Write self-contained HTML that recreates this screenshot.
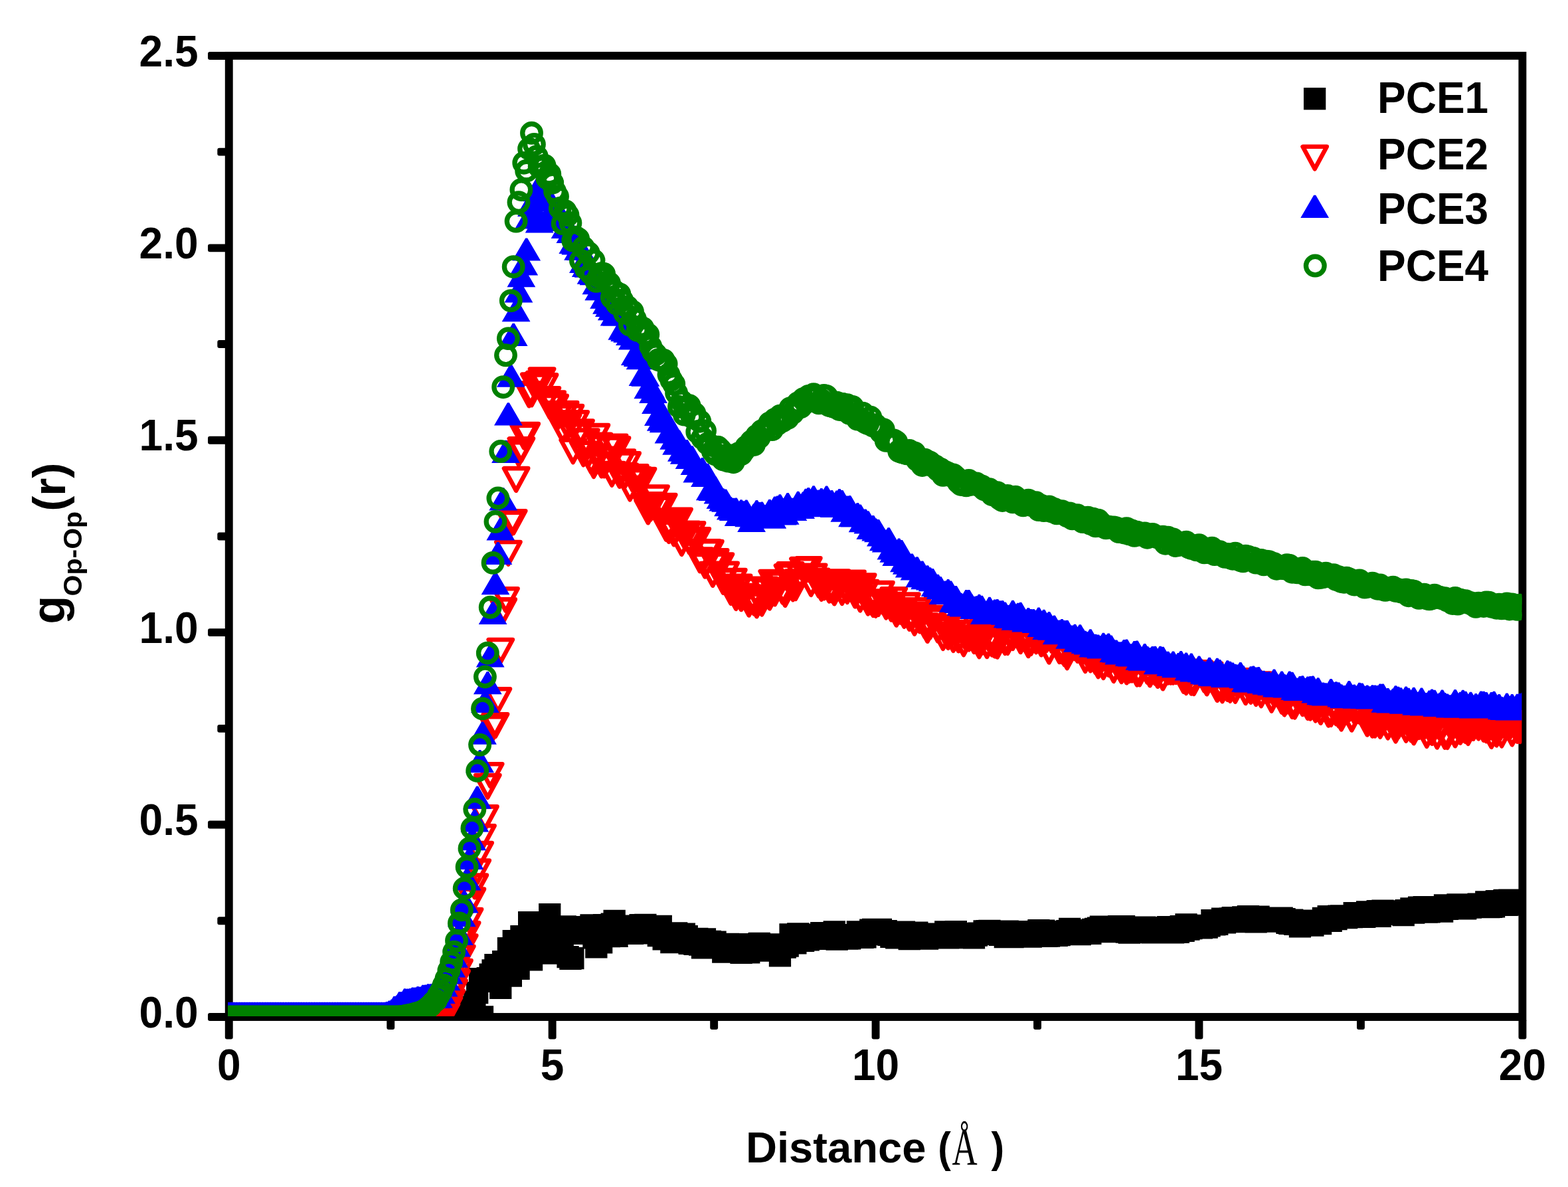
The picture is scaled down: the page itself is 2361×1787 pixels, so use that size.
<!DOCTYPE html>
<html lang="en">
<head>
<meta charset="utf-8">
<title>g Op-Op (r) vs Distance</title>
<style>
html,body{margin:0;padding:0;background:#fff;}
body{width:2361px;height:1787px;overflow:hidden;}
svg{display:block;}
text{font-family:"Liberation Sans",sans-serif;font-weight:bold;font-size:64px;fill:#000;}
</style>
</head>
<body>
<svg width="2361" height="1787" viewBox="0 0 2361 1787">
<rect width="2361" height="1787" fill="#fff"/>
<defs><clipPath id="plot"><rect x="343.1" y="82.8" width="1948.3" height="1447.1"/></clipPath></defs>
<rect x="344.75" y="83.90" width="1947.65" height="1447.10" fill="none" stroke="#000" stroke-width="11.9"/>
<g fill="#000"><rect x="313.0" y="1525.0" width="28.8" height="11.9" rx="3"/><rect x="327.3" y="1380.3" width="14.5" height="11.9" rx="3"/><rect x="313.0" y="1235.6" width="28.8" height="11.9" rx="3"/><rect x="327.3" y="1090.9" width="14.5" height="11.9" rx="3"/><rect x="313.0" y="946.2" width="28.8" height="11.9" rx="3"/><rect x="327.3" y="801.5" width="14.5" height="11.9" rx="3"/><rect x="313.0" y="656.8" width="28.8" height="11.9" rx="3"/><rect x="327.3" y="512.1" width="14.5" height="11.9" rx="3"/><rect x="313.0" y="367.4" width="28.8" height="11.9" rx="3"/><rect x="327.3" y="222.7" width="14.5" height="11.9" rx="3"/><rect x="313.0" y="78.0" width="28.8" height="11.9" rx="3"/><rect x="338.8" y="1534.0" width="11.9" height="30.5" rx="3"/><rect x="582.3" y="1534.0" width="11.9" height="16.0" rx="3"/><rect x="825.7" y="1534.0" width="11.9" height="30.5" rx="3"/><rect x="1069.2" y="1534.0" width="11.9" height="16.0" rx="3"/><rect x="1312.6" y="1534.0" width="11.9" height="30.5" rx="3"/><rect x="1556.1" y="1534.0" width="11.9" height="16.0" rx="3"/><rect x="1799.5" y="1534.0" width="11.9" height="30.5" rx="3"/><rect x="2043.0" y="1534.0" width="11.9" height="16.0" rx="3"/><rect x="2286.5" y="1534.0" width="11.9" height="30.5" rx="3"/></g>
<g clip-path="url(#plot)">
<path fill="#000" d="M328.1 1514.3h33.3v33.3h-33.3zM332 1514.3h33.3v33.3h-33.3zM335.9 1514.3h33.3v33.3h-33.3zM339.8 1514.3h33.3v33.3h-33.3zM343.7 1514.3h33.3v33.3h-33.3zM347.6 1514.3h33.3v33.3h-33.3zM351.5 1514.3h33.3v33.3h-33.3zM355.4 1514.3h33.3v33.3h-33.3zM359.3 1514.3h33.3v33.3h-33.3zM363.2 1514.3h33.3v33.3h-33.3zM367.1 1514.3h33.3v33.3h-33.3zM370.9 1514.3h33.3v33.3h-33.3zM374.8 1514.3h33.3v33.3h-33.3zM378.7 1514.3h33.3v33.3h-33.3zM382.6 1514.3h33.3v33.3h-33.3zM386.5 1514.3h33.3v33.3h-33.3zM390.4 1514.3h33.3v33.3h-33.3zM394.3 1514.3h33.3v33.3h-33.3zM398.2 1514.3h33.3v33.3h-33.3zM402.1 1514.3h33.3v33.3h-33.3zM406 1514.3h33.3v33.3h-33.3zM409.9 1514.3h33.3v33.3h-33.3zM413.8 1514.3h33.3v33.3h-33.3zM417.7 1514.3h33.3v33.3h-33.3zM421.6 1514.3h33.3v33.3h-33.3zM425.5 1514.3h33.3v33.3h-33.3zM429.4 1514.3h33.3v33.3h-33.3zM433.3 1514.3h33.3v33.3h-33.3zM437.2 1514.3h33.3v33.3h-33.3zM441.1 1514.3h33.3v33.3h-33.3zM445 1514.3h33.3v33.3h-33.3zM448.9 1514.3h33.3v33.3h-33.3zM452.7 1514.3h33.3v33.3h-33.3zM456.6 1514.3h33.3v33.3h-33.3zM460.5 1514.3h33.3v33.3h-33.3zM464.4 1514.3h33.3v33.3h-33.3zM468.3 1514.3h33.3v33.3h-33.3zM472.2 1514.3h33.3v33.3h-33.3zM476.1 1514.3h33.3v33.3h-33.3zM480 1514.3h33.3v33.3h-33.3zM483.9 1514.3h33.3v33.3h-33.3zM487.8 1514.3h33.3v33.3h-33.3zM491.7 1514.3h33.3v33.3h-33.3zM495.6 1514.3h33.3v33.3h-33.3zM499.5 1514.3h33.3v33.3h-33.3zM503.4 1514.3h33.3v33.3h-33.3zM507.3 1514.3h33.3v33.3h-33.3zM511.2 1514.3h33.3v33.3h-33.3zM515.1 1514.3h33.3v33.3h-33.3zM519 1514.3h33.3v33.3h-33.3zM522.9 1514.3h33.3v33.3h-33.3zM526.8 1514.3h33.3v33.3h-33.3zM530.7 1514.3h33.3v33.3h-33.3zM534.6 1514.3h33.3v33.3h-33.3zM538.4 1514.3h33.3v33.3h-33.3zM542.3 1514.3h33.3v33.3h-33.3zM546.2 1514.3h33.3v33.3h-33.3zM550.1 1514.3h33.3v33.3h-33.3zM554 1514.3h33.3v33.3h-33.3zM557.9 1514.3h33.3v33.3h-33.3zM561.8 1514.3h33.3v33.3h-33.3zM565.7 1514.3h33.3v33.3h-33.3zM569.6 1514.3h33.3v33.3h-33.3zM573.5 1514.3h33.3v33.3h-33.3zM577.4 1514.3h33.3v33.3h-33.3zM581.3 1514.3h33.3v33.3h-33.3zM585.2 1514.3h33.3v33.3h-33.3zM589.1 1514.3h33.3v33.3h-33.3zM593 1514.3h33.3v33.3h-33.3zM596.9 1514.3h33.3v33.3h-33.3zM600.8 1514.3h33.3v33.3h-33.3zM604.7 1514.3h33.3v33.3h-33.3zM608.6 1514.3h33.3v33.3h-33.3zM612.5 1514.3h33.3v33.3h-33.3zM616.4 1514.3h33.3v33.3h-33.3zM620.2 1514.3h33.3v33.3h-33.3zM624.1 1514.3h33.3v33.3h-33.3zM628 1514.3h33.3v33.3h-33.3zM631.9 1514.3h33.3v33.3h-33.3zM635.8 1514.3h33.3v33.3h-33.3zM639.7 1514.3h33.3v33.3h-33.3zM643.6 1514.3h33.3v33.3h-33.3zM647.5 1514.3h33.3v33.3h-33.3zM651.4 1514.3h33.3v33.3h-33.3zM655.3 1514.3h33.3v33.3h-33.3zM659.2 1514.3h33.3v33.3h-33.3zM663.1 1514.3h33.3v33.3h-33.3zM667 1514.3h33.3v33.3h-33.3zM670.9 1514.3h33.3v33.3h-33.3zM674.8 1514.3h33.3v33.3h-33.3zM678.7 1514.3h33.3v33.3h-33.3zM682.6 1513.4h33.3v33.3h-33.3zM686.5 1510.8h33.3v33.3h-33.3zM690.4 1506.6h33.3v33.3h-33.3zM694.3 1499.4h33.3v33.3h-33.3zM698.2 1491.6h33.3v33.3h-33.3zM702 1478h33.3v33.3h-33.3zM705.9 1456.9h33.3v33.3h-33.3zM709.8 1514.3h33.3v33.3h-33.3zM713.7 1460.8h33.3v33.3h-33.3zM717.6 1456.1h33.3v33.3h-33.3zM721.5 1450.4h33.3v33.3h-33.3zM725.4 1444.2h33.3v33.3h-33.3zM729.3 1436.1h33.3v33.3h-33.3zM733.2 1437.6h33.3v33.3h-33.3zM737.1 1470.8h33.3v33.3h-33.3zM741 1431.1h33.3v33.3h-33.3zM744.9 1450.7h33.3v33.3h-33.3zM748.8 1411.1h33.3v33.3h-33.3zM752.7 1452.5h33.3v33.3h-33.3zM756.6 1399.9h33.3v33.3h-33.3zM760.5 1432.7h33.3v33.3h-33.3zM764.4 1441.8h33.3v33.3h-33.3zM768.3 1393h33.3v33.3h-33.3zM772.2 1399h33.3v33.3h-33.3zM776.1 1422.2h33.3v33.3h-33.3zM780 1372h33.3v33.3h-33.3zM783.9 1428.1h33.3v33.3h-33.3zM787.7 1387.4h33.3v33.3h-33.3zM791.6 1409.7h33.3v33.3h-33.3zM795.5 1417.2h33.3v33.3h-33.3zM799.4 1413.1h33.3v33.3h-33.3zM803.3 1386.7h33.3v33.3h-33.3zM807.2 1381.3h33.3v33.3h-33.3zM811.1 1360.1h33.3v33.3h-33.3zM815 1418.4h33.3v33.3h-33.3zM818.9 1383.8h33.3v33.3h-33.3zM822.8 1412.9h33.3v33.3h-33.3zM826.7 1406.7h33.3v33.3h-33.3zM830.6 1405.3h33.3v33.3h-33.3zM834.5 1378.3h33.3v33.3h-33.3zM838.4 1424h33.3v33.3h-33.3zM842.3 1426.6h33.3v33.3h-33.3zM846.2 1426h33.3v33.3h-33.3zM850.1 1379h33.3v33.3h-33.3zM854 1380.2h33.3v33.3h-33.3zM857.9 1388.7h33.3v33.3h-33.3zM861.8 1386h33.3v33.3h-33.3zM865.7 1382.2h33.3v33.3h-33.3zM869.5 1386.3h33.3v33.3h-33.3zM873.4 1376.2h33.3v33.3h-33.3zM877.3 1395.3h33.3v33.3h-33.3zM881.2 1409.2h33.3v33.3h-33.3zM885.1 1377.2h33.3v33.3h-33.3zM889 1402.3h33.3v33.3h-33.3zM892.9 1376h33.3v33.3h-33.3zM896.8 1376.6h33.3v33.3h-33.3zM900.7 1393h33.3v33.3h-33.3zM904.6 1374.5h33.3v33.3h-33.3zM908.5 1369.8h33.3v33.3h-33.3zM912.4 1392.7h33.3v33.3h-33.3zM916.3 1385.5h33.3v33.3h-33.3zM920.2 1381.4h33.3v33.3h-33.3zM924.1 1387.8h33.3v33.3h-33.3zM928 1377.6h33.3v33.3h-33.3zM931.9 1377.9h33.3v33.3h-33.3zM935.8 1388.8h33.3v33.3h-33.3zM939.7 1377.9h33.3v33.3h-33.3zM943.6 1386.2h33.3v33.3h-33.3zM947.5 1376h33.3v33.3h-33.3zM951.3 1388.1h33.3v33.3h-33.3zM955.2 1375.7h33.3v33.3h-33.3zM959.1 1385.7h33.3v33.3h-33.3zM963 1381.9h33.3v33.3h-33.3zM966.9 1379.9h33.3v33.3h-33.3zM970.8 1384.5h33.3v33.3h-33.3zM974.7 1392h33.3v33.3h-33.3zM978.6 1377.8h33.3v33.3h-33.3zM982.5 1397.3h33.3v33.3h-33.3zM986.4 1394.4h33.3v33.3h-33.3zM990.3 1389.9h33.3v33.3h-33.3zM994.2 1401.9h33.3v33.3h-33.3zM998.1 1400.9h33.3v33.3h-33.3zM1002 1388.2h33.3v33.3h-33.3zM1005.9 1389.5h33.3v33.3h-33.3zM1009.8 1393.2h33.3v33.3h-33.3zM1013.7 1389.6h33.3v33.3h-33.3zM1017.6 1392.9h33.3v33.3h-33.3zM1021.5 1403.7h33.3v33.3h-33.3zM1025.4 1396.8h33.3v33.3h-33.3zM1029.3 1404.7h33.3v33.3h-33.3zM1033.1 1396.7h33.3v33.3h-33.3zM1037 1405.5h33.3v33.3h-33.3zM1040.9 1410.1h33.3v33.3h-33.3zM1044.8 1397.3h33.3v33.3h-33.3zM1048.7 1401h33.3v33.3h-33.3zM1052.6 1400.8h33.3v33.3h-33.3zM1056.5 1404.8h33.3v33.3h-33.3zM1060.4 1401.6h33.3v33.3h-33.3zM1064.3 1409h33.3v33.3h-33.3zM1068.2 1406.7h33.3v33.3h-33.3zM1072.1 1416.4h33.3v33.3h-33.3zM1076 1408.3h33.3v33.3h-33.3zM1079.9 1404.7h33.3v33.3h-33.3zM1083.8 1406.8h33.3v33.3h-33.3zM1087.7 1405.8h33.3v33.3h-33.3zM1091.6 1411.4h33.3v33.3h-33.3zM1095.5 1405.1h33.3v33.3h-33.3zM1099.4 1417.6h33.3v33.3h-33.3zM1103.3 1405.1h33.3v33.3h-33.3zM1107.2 1413.5h33.3v33.3h-33.3zM1111.1 1417.1h33.3v33.3h-33.3zM1115 1408h33.3v33.3h-33.3zM1118.8 1411.1h33.3v33.3h-33.3zM1122.7 1411.3h33.3v33.3h-33.3zM1126.6 1403.8h33.3v33.3h-33.3zM1130.5 1414.5h33.3v33.3h-33.3zM1134.4 1406.3h33.3v33.3h-33.3zM1138.3 1409.9h33.3v33.3h-33.3zM1142.2 1406.9h33.3v33.3h-33.3zM1146.1 1407h33.3v33.3h-33.3zM1150 1411.8h33.3v33.3h-33.3zM1153.9 1405.2h33.3v33.3h-33.3zM1157.8 1422.3h33.3v33.3h-33.3zM1161.7 1408.8h33.3v33.3h-33.3zM1165.6 1409.5h33.3v33.3h-33.3zM1169.5 1407.4h33.3v33.3h-33.3zM1173.4 1390.2h33.3v33.3h-33.3zM1177.3 1392h33.3v33.3h-33.3zM1181.2 1403.2h33.3v33.3h-33.3zM1185.1 1389.3h33.3v33.3h-33.3zM1189 1394.2h33.3v33.3h-33.3zM1192.9 1399.8h33.3v33.3h-33.3zM1196.8 1395.8h33.3v33.3h-33.3zM1200.6 1398.1h33.3v33.3h-33.3zM1204.5 1390.5h33.3v33.3h-33.3zM1208.4 1392.6h33.3v33.3h-33.3zM1212.3 1396.5h33.3v33.3h-33.3zM1216.2 1396.7h33.3v33.3h-33.3zM1220.1 1388h33.3v33.3h-33.3zM1224 1389h33.3v33.3h-33.3zM1227.9 1393.9h33.3v33.3h-33.3zM1231.8 1394.2h33.3v33.3h-33.3zM1235.7 1388.9h33.3v33.3h-33.3zM1239.6 1386.3h33.3v33.3h-33.3zM1243.5 1397.4h33.3v33.3h-33.3zM1247.4 1396.4h33.3v33.3h-33.3zM1251.3 1393.8h33.3v33.3h-33.3zM1255.2 1391.1h33.3v33.3h-33.3zM1259.1 1396.4h33.3v33.3h-33.3zM1263 1396.3h33.3v33.3h-33.3zM1266.9 1394.2h33.3v33.3h-33.3zM1270.8 1391.8h33.3v33.3h-33.3zM1274.7 1386.2h33.3v33.3h-33.3zM1278.6 1387.5h33.3v33.3h-33.3zM1282.4 1394.7h33.3v33.3h-33.3zM1286.3 1394.3h33.3v33.3h-33.3zM1290.2 1389.3h33.3v33.3h-33.3zM1294.1 1383.4h33.3v33.3h-33.3zM1298 1382.8h33.3v33.3h-33.3zM1301.9 1390h33.3v33.3h-33.3zM1305.8 1383h33.3v33.3h-33.3zM1309.7 1382.7h33.3v33.3h-33.3zM1313.6 1389.7h33.3v33.3h-33.3zM1317.5 1385h33.3v33.3h-33.3zM1321.4 1390.8h33.3v33.3h-33.3zM1325.3 1393.6h33.3v33.3h-33.3zM1329.2 1388.4h33.3v33.3h-33.3zM1333.1 1395.2h33.3v33.3h-33.3zM1337 1388.3h33.3v33.3h-33.3zM1340.9 1387.2h33.3v33.3h-33.3zM1344.8 1386.6h33.3v33.3h-33.3zM1348.7 1392.9h33.3v33.3h-33.3zM1352.6 1397h33.3v33.3h-33.3zM1356.5 1387.8h33.3v33.3h-33.3zM1360.4 1388.2h33.3v33.3h-33.3zM1364.2 1387.4h33.3v33.3h-33.3zM1368.1 1391.3h33.3v33.3h-33.3zM1372 1390.3h33.3v33.3h-33.3zM1375.9 1394.5h33.3v33.3h-33.3zM1379.8 1396.5h33.3v33.3h-33.3zM1383.7 1395.2h33.3v33.3h-33.3zM1387.6 1389.4h33.3v33.3h-33.3zM1391.5 1394.6h33.3v33.3h-33.3zM1395.4 1389.4h33.3v33.3h-33.3zM1399.3 1391.8h33.3v33.3h-33.3zM1403.2 1392.6h33.3v33.3h-33.3zM1407.1 1386.2h33.3v33.3h-33.3zM1411 1395.3h33.3v33.3h-33.3zM1414.9 1391.4h33.3v33.3h-33.3zM1418.8 1395h33.3v33.3h-33.3zM1422.7 1385.9h33.3v33.3h-33.3zM1426.6 1390.9h33.3v33.3h-33.3zM1430.5 1392.8h33.3v33.3h-33.3zM1434.4 1394.3h33.3v33.3h-33.3zM1438.3 1388.8h33.3v33.3h-33.3zM1442.2 1391.6h33.3v33.3h-33.3zM1446.1 1394.3h33.3v33.3h-33.3zM1449.9 1395.1h33.3v33.3h-33.3zM1453.8 1391.5h33.3v33.3h-33.3zM1457.7 1388.5h33.3v33.3h-33.3zM1461.6 1389.3h33.3v33.3h-33.3zM1465.5 1385.2h33.3v33.3h-33.3zM1469.4 1385h33.3v33.3h-33.3zM1473.3 1384.7h33.3v33.3h-33.3zM1477.2 1385.9h33.3v33.3h-33.3zM1481.1 1389.8h33.3v33.3h-33.3zM1485 1388.8h33.3v33.3h-33.3zM1488.9 1390.7h33.3v33.3h-33.3zM1492.8 1390.6h33.3v33.3h-33.3zM1496.7 1394h33.3v33.3h-33.3zM1500.6 1385.6h33.3v33.3h-33.3zM1504.5 1392h33.3v33.3h-33.3zM1508.4 1393.9h33.3v33.3h-33.3zM1512.3 1389.4h33.3v33.3h-33.3zM1516.2 1386.1h33.3v33.3h-33.3zM1520.1 1389.7h33.3v33.3h-33.3zM1524 1390.5h33.3v33.3h-33.3zM1527.9 1386.5h33.3v33.3h-33.3zM1531.7 1392.2h33.3v33.3h-33.3zM1535.6 1393.5h33.3v33.3h-33.3zM1539.5 1386.9h33.3v33.3h-33.3zM1543.4 1387.6h33.3v33.3h-33.3zM1547.3 1384.1h33.3v33.3h-33.3zM1551.2 1389.2h33.3v33.3h-33.3zM1555.1 1384.6h33.3v33.3h-33.3zM1559 1392.7h33.3v33.3h-33.3zM1562.9 1392.5h33.3v33.3h-33.3zM1566.8 1386h33.3v33.3h-33.3zM1570.7 1390.4h33.3v33.3h-33.3zM1574.6 1391.6h33.3v33.3h-33.3zM1578.5 1390.9h33.3v33.3h-33.3zM1582.4 1388.3h33.3v33.3h-33.3zM1586.3 1388.4h33.3v33.3h-33.3zM1590.2 1385.1h33.3v33.3h-33.3zM1594.1 1381.7h33.3v33.3h-33.3zM1598 1387.4h33.3v33.3h-33.3zM1601.9 1388.9h33.3v33.3h-33.3zM1605.8 1383.9h33.3v33.3h-33.3zM1609.7 1390h33.3v33.3h-33.3zM1613.5 1386.2h33.3v33.3h-33.3zM1617.4 1386.7h33.3v33.3h-33.3zM1621.3 1385.7h33.3v33.3h-33.3zM1625.2 1388.6h33.3v33.3h-33.3zM1629.1 1382.8h33.3v33.3h-33.3zM1633 1381.8h33.3v33.3h-33.3zM1636.9 1380.4h33.3v33.3h-33.3zM1640.8 1378.4h33.3v33.3h-33.3zM1644.7 1384.9h33.3v33.3h-33.3zM1648.6 1380.8h33.3v33.3h-33.3zM1652.5 1383.6h33.3v33.3h-33.3zM1656.4 1385.9h33.3v33.3h-33.3zM1660.3 1378.4h33.3v33.3h-33.3zM1664.2 1379.6h33.3v33.3h-33.3zM1668.1 1377.9h33.3v33.3h-33.3zM1672 1378.9h33.3v33.3h-33.3zM1675.9 1378.1h33.3v33.3h-33.3zM1679.8 1386.5h33.3v33.3h-33.3zM1683.7 1387.4h33.3v33.3h-33.3zM1687.6 1385.9h33.3v33.3h-33.3zM1691.5 1383.8h33.3v33.3h-33.3zM1695.4 1380.2h33.3v33.3h-33.3zM1699.2 1383.4h33.3v33.3h-33.3zM1703.1 1382.2h33.3v33.3h-33.3zM1707 1379.5h33.3v33.3h-33.3zM1710.9 1387h33.3v33.3h-33.3zM1714.8 1380.3h33.3v33.3h-33.3zM1718.7 1387.1h33.3v33.3h-33.3zM1722.6 1385.4h33.3v33.3h-33.3zM1726.5 1379.9h33.3v33.3h-33.3zM1730.4 1380.2h33.3v33.3h-33.3zM1734.3 1383.8h33.3v33.3h-33.3zM1738.2 1385h33.3v33.3h-33.3zM1742.1 1378.9h33.3v33.3h-33.3zM1746 1385.1h33.3v33.3h-33.3zM1749.9 1387.2h33.3v33.3h-33.3zM1753.8 1385.2h33.3v33.3h-33.3zM1757.7 1386.7h33.3v33.3h-33.3zM1761.6 1377.9h33.3v33.3h-33.3zM1765.5 1384.7h33.3v33.3h-33.3zM1769.4 1375.2h33.3v33.3h-33.3zM1773.3 1382.5h33.3v33.3h-33.3zM1777.2 1380.9h33.3v33.3h-33.3zM1781 1376.7h33.3v33.3h-33.3zM1784.9 1379.5h33.3v33.3h-33.3zM1788.8 1378.3h33.3v33.3h-33.3zM1792.7 1380.2h33.3v33.3h-33.3zM1796.6 1376.9h33.3v33.3h-33.3zM1800.5 1379.5h33.3v33.3h-33.3zM1804.4 1377.1h33.3v33.3h-33.3zM1808.3 1369.1h33.3v33.3h-33.3zM1812.2 1375.2h33.3v33.3h-33.3zM1816.1 1374.6h33.3v33.3h-33.3zM1820 1369h33.3v33.3h-33.3zM1823.9 1366.5h33.3v33.3h-33.3zM1827.8 1372.3h33.3v33.3h-33.3zM1831.7 1370.9h33.3v33.3h-33.3zM1835.6 1366.3h33.3v33.3h-33.3zM1839.5 1365.1h33.3v33.3h-33.3zM1843.4 1366.4h33.3v33.3h-33.3zM1847.3 1371h33.3v33.3h-33.3zM1851.2 1370.8h33.3v33.3h-33.3zM1855.1 1364.3h33.3v33.3h-33.3zM1859 1364.7h33.3v33.3h-33.3zM1862.8 1363.1h33.3v33.3h-33.3zM1866.7 1364.1h33.3v33.3h-33.3zM1870.6 1368.5h33.3v33.3h-33.3zM1874.5 1371.3h33.3v33.3h-33.3zM1878.4 1363.5h33.3v33.3h-33.3zM1882.3 1365.4h33.3v33.3h-33.3zM1886.2 1366.8h33.3v33.3h-33.3zM1890.1 1366h33.3v33.3h-33.3zM1894 1369.9h33.3v33.3h-33.3zM1897.9 1370.5h33.3v33.3h-33.3zM1901.8 1367.7h33.3v33.3h-33.3zM1905.7 1369.4h33.3v33.3h-33.3zM1909.6 1367h33.3v33.3h-33.3zM1913.5 1365.5h33.3v33.3h-33.3zM1917.4 1366.9h33.3v33.3h-33.3zM1921.3 1372.7h33.3v33.3h-33.3zM1925.2 1373.6h33.3v33.3h-33.3zM1929.1 1368.4h33.3v33.3h-33.3zM1933 1374.7h33.3v33.3h-33.3zM1936.9 1370.6h33.3v33.3h-33.3zM1940.8 1378.3h33.3v33.3h-33.3zM1944.6 1375h33.3v33.3h-33.3zM1948.5 1373.8h33.3v33.3h-33.3zM1952.4 1370.5h33.3v33.3h-33.3zM1956.3 1369.5h33.3v33.3h-33.3zM1960.2 1376.4h33.3v33.3h-33.3zM1964.1 1370.5h33.3v33.3h-33.3zM1968 1369.5h33.3v33.3h-33.3zM1971.9 1373.9h33.3v33.3h-33.3zM1975.8 1365.8h33.3v33.3h-33.3zM1979.7 1367.6h33.3v33.3h-33.3zM1983.6 1362.9h33.3v33.3h-33.3zM1987.5 1369.8h33.3v33.3h-33.3zM1991.4 1365.2h33.3v33.3h-33.3zM1995.3 1367h33.3v33.3h-33.3zM1999.2 1362.4h33.3v33.3h-33.3zM2003.1 1362.3h33.3v33.3h-33.3zM2007 1363h33.3v33.3h-33.3zM2010.9 1365h33.3v33.3h-33.3zM2014.8 1362.5h33.3v33.3h-33.3zM2018.7 1363.9h33.3v33.3h-33.3zM2022.6 1358h33.3v33.3h-33.3zM2026.5 1362.3h33.3v33.3h-33.3zM2030.3 1361.8h33.3v33.3h-33.3zM2034.2 1363.8h33.3v33.3h-33.3zM2038.1 1363.6h33.3v33.3h-33.3zM2042 1356.2h33.3v33.3h-33.3zM2045.9 1362.6h33.3v33.3h-33.3zM2049.8 1356.4h33.3v33.3h-33.3zM2053.7 1358.6h33.3v33.3h-33.3zM2057.6 1355h33.3v33.3h-33.3zM2061.5 1362.8h33.3v33.3h-33.3zM2065.4 1354.6h33.3v33.3h-33.3zM2069.3 1355.7h33.3v33.3h-33.3zM2073.2 1357.4h33.3v33.3h-33.3zM2077.1 1355.6h33.3v33.3h-33.3zM2081 1355.2h33.3v33.3h-33.3zM2084.9 1358.1h33.3v33.3h-33.3zM2088.8 1355.3h33.3v33.3h-33.3zM2092.7 1359.6h33.3v33.3h-33.3zM2096.6 1360.9h33.3v33.3h-33.3zM2100.5 1353.9h33.3v33.3h-33.3zM2104.4 1356h33.3v33.3h-33.3zM2108.3 1351.2h33.3v33.3h-33.3zM2112.1 1357.5h33.3v33.3h-33.3zM2116 1351.2h33.3v33.3h-33.3zM2119.9 1349.5h33.3v33.3h-33.3zM2123.8 1349.8h33.3v33.3h-33.3zM2127.7 1348.9h33.3v33.3h-33.3zM2131.6 1356.5h33.3v33.3h-33.3zM2135.5 1356.1h33.3v33.3h-33.3zM2139.4 1355.2h33.3v33.3h-33.3zM2143.3 1353.7h33.3v33.3h-33.3zM2147.2 1355.4h33.3v33.3h-33.3zM2151.1 1354.8h33.3v33.3h-33.3zM2155 1355.4h33.3v33.3h-33.3zM2158.9 1346.2h33.3v33.3h-33.3zM2162.8 1351.7h33.3v33.3h-33.3zM2166.7 1348.1h33.3v33.3h-33.3zM2170.6 1349.9h33.3v33.3h-33.3zM2174.5 1346.2h33.3v33.3h-33.3zM2178.4 1345.3h33.3v33.3h-33.3zM2182.3 1349.5h33.3v33.3h-33.3zM2186.2 1347.1h33.3v33.3h-33.3zM2190.1 1351.2h33.3v33.3h-33.3zM2193.9 1349.3h33.3v33.3h-33.3zM2197.8 1349.5h33.3v33.3h-33.3zM2201.7 1348.4h33.3v33.3h-33.3zM2205.6 1347.9h33.3v33.3h-33.3zM2209.5 1344.5h33.3v33.3h-33.3zM2213.4 1347.2h33.3v33.3h-33.3zM2217.3 1346.9h33.3v33.3h-33.3zM2221.2 1341.3h33.3v33.3h-33.3zM2225.1 1349h33.3v33.3h-33.3zM2229 1348.8h33.3v33.3h-33.3zM2232.9 1348.2h33.3v33.3h-33.3zM2236.8 1340.1h33.3v33.3h-33.3zM2240.7 1341.9h33.3v33.3h-33.3zM2244.6 1340.8h33.3v33.3h-33.3zM2248.5 1338.7h33.3v33.3h-33.3zM2252.4 1345.8h33.3v33.3h-33.3zM2256.3 1338.6h33.3v33.3h-33.3zM2260.2 1345.2h33.3v33.3h-33.3zM2264.1 1342h33.3v33.3h-33.3zM2268 1340.1h33.3v33.3h-33.3zM2271.9 1338.9h33.3v33.3h-33.3zM2275.8 1344.5h33.3v33.3h-33.3z"/>
<path fill="none" stroke="#f00" stroke-width="6.6" stroke-linejoin="round" d="M326.6 1519.7h36.2L344.8 1553.2zM330.5 1519.7h36.2L348.6 1553.2zM334.4 1519.7h36.2L352.5 1553.2zM338.3 1519.7h36.2L356.4 1553.2zM342.2 1519.7h36.2L360.3 1553.2zM346.1 1519.7h36.2L364.2 1553.2zM350 1519.7h36.2L368.1 1553.2zM353.9 1519.7h36.2L372 1553.2zM357.8 1519.7h36.2L375.9 1553.2zM361.7 1519.7h36.2L379.8 1553.2zM365.6 1519.7h36.2L383.7 1553.2zM369.5 1519.7h36.2L387.6 1553.2zM373.4 1519.7h36.2L391.5 1553.2zM377.3 1519.7h36.2L395.4 1553.2zM381.2 1519.7h36.2L399.3 1553.2zM385.1 1519.7h36.2L403.2 1553.2zM389 1519.7h36.2L407.1 1553.2zM392.9 1519.7h36.2L411 1553.2zM396.8 1519.7h36.2L414.9 1553.2zM400.7 1519.7h36.2L418.8 1553.2zM404.6 1519.7h36.2L422.7 1553.2zM408.5 1519.7h36.2L426.6 1553.2zM412.3 1519.7h36.2L430.4 1553.2zM416.2 1519.7h36.2L434.3 1553.2zM420.1 1519.7h36.2L438.2 1553.2zM424 1519.7h36.2L442.1 1553.2zM427.9 1519.7h36.2L446 1553.2zM431.8 1519.7h36.2L449.9 1553.2zM435.7 1519.7h36.2L453.8 1553.2zM439.6 1519.7h36.2L457.7 1553.2zM443.5 1519.7h36.2L461.6 1553.2zM447.4 1519.7h36.2L465.5 1553.2zM451.3 1519.7h36.2L469.4 1553.2zM455.2 1519.7h36.2L473.3 1553.2zM459.1 1519.7h36.2L477.2 1553.2zM463 1519.7h36.2L481.1 1553.2zM466.9 1519.7h36.2L485 1553.2zM470.8 1519.7h36.2L488.9 1553.2zM474.7 1519.7h36.2L492.8 1553.2zM478.6 1519.7h36.2L496.7 1553.2zM482.5 1519.7h36.2L500.6 1553.2zM486.4 1519.7h36.2L504.5 1553.2zM490.3 1519.7h36.2L508.4 1553.2zM494.1 1519.7h36.2L512.2 1553.2zM498 1519.7h36.2L516.1 1553.2zM501.9 1519.7h36.2L520 1553.2zM505.8 1519.7h36.2L523.9 1553.2zM509.7 1519.7h36.2L527.8 1553.2zM513.6 1519.7h36.2L531.7 1553.2zM517.5 1519.7h36.2L535.6 1553.2zM521.4 1519.7h36.2L539.5 1553.2zM525.3 1519.7h36.2L543.4 1553.2zM529.2 1519.7h36.2L547.3 1553.2zM533.1 1519.7h36.2L551.2 1553.2zM537 1519.7h36.2L555.1 1553.2zM540.9 1519.7h36.2L559 1553.2zM544.8 1519.7h36.2L562.9 1553.2zM548.7 1519.7h36.2L566.8 1553.2zM552.6 1519.7h36.2L570.7 1553.2zM556.5 1519.7h36.2L574.6 1553.2zM560.4 1519.7h36.2L578.5 1553.2zM564.3 1519.7h36.2L582.4 1553.2zM568.2 1519.7h36.2L586.3 1553.2zM572.1 1519.7h36.2L590.2 1553.2zM575.9 1519.7h36.2L594 1553.2zM579.8 1519.7h36.2L597.9 1553.2zM583.7 1519.7h36.2L601.8 1553.2zM587.6 1519.7h36.2L605.7 1553.2zM591.5 1519.7h36.2L609.6 1553.2zM595.4 1519.7h36.2L613.5 1553.2zM599.3 1519.7h36.2L617.4 1553.2zM603.2 1519.7h36.2L621.3 1553.2zM607.1 1519.7h36.2L625.2 1553.2zM611 1519.7h36.2L629.1 1553.2zM614.9 1519.7h36.2L633 1553.2zM618.8 1519.7h36.2L636.9 1553.2zM622.7 1519.7h36.2L640.8 1553.2zM626.6 1519.7h36.2L644.7 1553.2zM630.5 1519.7h36.2L648.6 1553.2zM634.4 1519.7h36.2L652.5 1553.2zM638.3 1519.7h36.2L656.4 1553.2zM642.2 1519.7h36.2L660.3 1553.2zM646.1 1519.7h36.2L664.2 1553.2zM650 1518.6h36.2L668.1 1552.1zM653.9 1511.7h36.2L672 1545.2zM657.8 1502.3h36.2L675.9 1535.8zM661.6 1491.6h36.2L679.7 1525.1zM665.5 1476.2h36.2L683.6 1509.7zM669.4 1461.9h36.2L687.5 1495.4zM673.3 1446.1h36.2L691.4 1479.6zM677.2 1424.7h36.2L695.3 1458.2zM681.1 1408.5h36.2L699.2 1442zM685 1389.3h36.2L703.1 1422.8zM688.9 1369h36.2L707 1402.5zM692.8 1338.6h36.2L710.9 1372.1zM696.7 1317.6h36.2L714.8 1351.1zM700.6 1295.5h36.2L718.7 1329zM704.5 1269h36.2L722.6 1302.5zM708.4 1243.3h36.2L726.5 1276.8zM712.3 1214.4h36.2L730.4 1247.9zM716.2 1167h36.2L734.3 1200.5zM720.1 1150.3h36.2L738.2 1183.8zM724 1079.1h36.2L742.1 1112.6zM727.9 1075.2h36.2L746 1108.7zM731.8 1037.3h36.2L749.9 1070.8zM735.7 963h36.2L753.8 996.5zM739.6 902.4h36.2L757.7 935.9zM743.4 886.2h36.2L761.5 919.7zM747.3 816h36.2L765.4 849.5zM751.2 771.6h36.2L769.3 805.1zM755.1 769.3h36.2L773.2 802.8zM759 705.1h36.2L777.1 738.6zM762.9 666.2h36.2L781 699.7zM766.8 660.3h36.2L784.9 693.8zM770.7 640.8h36.2L788.8 674.3zM774.6 638.1h36.2L792.7 671.6zM778.5 577.6h36.2L796.6 611.1zM782.4 576.6h36.2L800.5 610.1zM786.3 563.5h36.2L804.4 597zM790.2 563.3h36.2L808.3 596.8zM794.1 560.8h36.2L812.2 594.3zM798 555.5h36.2L816.1 589zM801.9 564.4h36.2L820 597.9zM805.8 584.2h36.2L823.9 617.7zM809.7 595.3h36.2L827.8 628.8zM813.6 590.6h36.2L831.7 624.1zM817.5 595.9h36.2L835.6 629.4zM821.4 611.8h36.2L839.5 645.3zM825.2 606.3h36.2L843.3 639.8zM829.1 630.1h36.2L847.2 663.6zM833 606.1h36.2L851.1 639.6zM836.9 624.9h36.2L855 658.4zM840.8 611.1h36.2L858.9 644.6zM844.7 662.5h36.2L862.8 696zM848.6 620.3h36.2L866.7 653.8zM852.5 639.3h36.2L870.6 672.8zM856.4 633.5h36.2L874.5 667zM860.3 666.5h36.2L878.4 700zM864.2 647.6h36.2L882.3 681.1zM868.1 666.8h36.2L886.2 700.3zM872 677.6h36.2L890.1 711.1zM875.9 684.3h36.2L894 717.8zM879.8 640.1h36.2L897.9 673.6zM883.7 653.7h36.2L901.8 687.2zM887.6 683.6h36.2L905.7 717.1zM891.5 683.6h36.2L909.6 717.1zM895.4 674.9h36.2L913.5 708.4zM899.3 657h36.2L917.4 690.5zM903.2 697h36.2L921.3 730.5zM907 655.7h36.2L925.1 689.2zM910.9 659.4h36.2L929 692.9zM914.8 699.1h36.2L932.9 732.6zM918.7 678.6h36.2L936.8 712.1zM922.6 699.6h36.2L940.7 733.1zM926.5 682.4h36.2L944.6 715.9zM930.4 718.8h36.2L948.5 752.3zM934.3 704.7h36.2L952.4 738.2zM938.2 701.3h36.2L956.3 734.8zM942.1 705.1h36.2L960.2 738.6zM946 708.2h36.2L964.1 741.7zM949.9 706h36.2L968 739.5zM953.8 744.8h36.2L971.9 778.3zM957.7 753.6h36.2L975.8 787.1zM961.6 748.8h36.2L979.7 782.3zM965.5 743.2h36.2L983.6 776.7zM969.4 732.5h36.2L987.5 766zM973.3 746.8h36.2L991.4 780.3zM977.2 749.7h36.2L995.3 783.2zM981.1 745h36.2L999.2 778.5zM985 779.1h36.2L1003.1 812.6zM988.9 782.2h36.2L1007 815.7zM992.7 778.4h36.2L1010.8 811.9zM996.6 786.6h36.2L1014.7 820.1zM1000.5 773.2h36.2L1018.6 806.7zM1004.4 766.7h36.2L1022.5 800.2zM1008.3 801.2h36.2L1026.4 834.7zM1012.2 789.8h36.2L1030.3 823.3zM1016.1 786.9h36.2L1034.2 820.4zM1020 798.9h36.2L1038.1 832.4zM1023.9 787.4h36.2L1042 820.9zM1027.8 796.6h36.2L1045.9 830.1zM1031.7 796.3h36.2L1049.8 829.8zM1035.6 826.5h36.2L1053.7 860zM1039.5 827.8h36.2L1057.6 861.3zM1043.4 834.9h36.2L1061.5 868.4zM1047.3 814.3h36.2L1065.4 847.8zM1051.2 815.1h36.2L1069.3 848.6zM1055.1 848.1h36.2L1073.2 881.6zM1059 828.4h36.2L1077.1 861.9zM1062.9 834.6h36.2L1081 868.1zM1066.8 834.5h36.2L1084.9 868zM1070.7 859h36.2L1088.8 892.5zM1074.5 847.9h36.2L1092.6 881.4zM1078.4 867.6h36.2L1096.5 901.1zM1082.3 875h36.2L1100.4 908.5zM1086.2 858.1h36.2L1104.3 891.6zM1090.1 883.2h36.2L1108.2 916.7zM1094 866.9h36.2L1112.1 900.4zM1097.9 884.4h36.2L1116 917.9zM1101.8 881h36.2L1119.9 914.5zM1105.7 871.4h36.2L1123.8 904.9zM1109.6 892.9h36.2L1127.7 926.4zM1113.5 887.3h36.2L1131.6 920.8zM1117.4 890.9h36.2L1135.5 924.4zM1121.3 894.6h36.2L1139.4 928.1zM1125.2 885.2h36.2L1143.3 918.7zM1129.1 891.8h36.2L1147.2 925.3zM1133 870.9h36.2L1151.1 904.4zM1136.9 873.6h36.2L1155 907.1zM1140.8 882.7h36.2L1158.9 916.2zM1144.7 860h36.2L1162.8 893.5zM1148.6 876.6h36.2L1166.7 910.1zM1152.5 863.4h36.2L1170.6 896.9zM1156.3 860.2h36.2L1174.4 893.7zM1160.2 873.8h36.2L1178.3 907.3zM1164.1 878.1h36.2L1182.2 911.6zM1168 851.4h36.2L1186.1 884.9zM1171.9 848.2h36.2L1190 881.7zM1175.8 869.5h36.2L1193.9 903zM1179.7 868.4h36.2L1197.8 901.9zM1183.6 859.5h36.2L1201.7 893zM1187.5 851.9h36.2L1205.6 885.4zM1191.4 841.1h36.2L1209.5 874.6zM1195.3 841.2h36.2L1213.4 874.7zM1199.2 840.4h36.2L1217.3 873.9zM1203.1 862.2h36.2L1221.2 895.7zM1207 850.7h36.2L1225.1 884.2zM1210.9 857.7h36.2L1229 891.2zM1214.8 864.1h36.2L1232.9 897.6zM1218.7 869h36.2L1236.8 902.5zM1222.6 867.6h36.2L1240.7 901.1zM1226.5 863.8h36.2L1244.6 897.3zM1230.4 871.8h36.2L1248.5 905.3zM1234.3 871.7h36.2L1252.4 905.2zM1238.2 875.6h36.2L1256.3 909.1zM1242 859.6h36.2L1260.1 893.1zM1245.9 866.1h36.2L1264 899.6zM1249.8 875.3h36.2L1267.9 908.8zM1253.7 867.4h36.2L1271.8 900.9zM1257.6 873.3h36.2L1275.7 906.8zM1261.5 866.1h36.2L1279.6 899.6zM1265.4 860.7h36.2L1283.5 894.2zM1269.3 879.7h36.2L1287.4 913.2zM1273.2 870.6h36.2L1291.3 904.1zM1277.1 885.7h36.2L1295.2 919.2zM1281 865.6h36.2L1299.1 899.1zM1284.9 875h36.2L1303 908.5zM1288.8 890.8h36.2L1306.9 924.3zM1292.7 889.6h36.2L1310.8 923.1zM1296.6 893.3h36.2L1314.7 926.8zM1300.5 894h36.2L1318.6 927.5zM1304.4 892.1h36.2L1322.5 925.6zM1308.3 877.1h36.2L1326.4 910.6zM1312.2 890.1h36.2L1330.3 923.6zM1316.1 896.8h36.2L1334.2 930.3zM1320 894.1h36.2L1338.1 927.6zM1323.8 899.8h36.2L1341.9 933.3zM1327.7 886.2h36.2L1345.8 919.7zM1331.6 907.9h36.2L1349.7 941.4zM1335.5 903.8h36.2L1353.6 937.3zM1339.4 904.6h36.2L1357.5 938.1zM1343.3 910h36.2L1361.4 943.5zM1347.2 894.6h36.2L1365.3 928.1zM1351.1 914h36.2L1369.2 947.5zM1355 913h36.2L1373.1 946.5zM1358.9 921h36.2L1377 954.5zM1362.8 902.4h36.2L1380.9 935.9zM1366.7 917.5h36.2L1384.8 951zM1370.6 909.2h36.2L1388.7 942.7zM1374.5 925.6h36.2L1392.6 959.1zM1378.4 932.1h36.2L1396.5 965.6zM1382.3 926.7h36.2L1400.4 960.2zM1386.2 913.8h36.2L1404.3 947.3zM1390.1 914.3h36.2L1408.2 947.8zM1394 931.9h36.2L1412.1 965.4zM1397.9 918.2h36.2L1416 951.7zM1401.8 943.3h36.2L1419.9 976.8zM1405.6 931.5h36.2L1423.7 965zM1409.5 942.2h36.2L1427.6 975.7zM1413.4 938.7h36.2L1431.5 972.2zM1417.3 946.3h36.2L1435.4 979.8zM1421.2 927.8h36.2L1439.3 961.3zM1425.1 946.6h36.2L1443.2 980.1zM1429 928.5h36.2L1447.1 962zM1432.9 952.5h36.2L1451 986zM1436.8 944.7h36.2L1454.9 978.2zM1440.7 944.7h36.2L1458.8 978.2zM1444.6 936.1h36.2L1462.7 969.6zM1448.5 948.3h36.2L1466.6 981.8zM1452.4 943.9h36.2L1470.5 977.4zM1456.3 955.5h36.2L1474.4 989zM1460.2 950.1h36.2L1478.3 983.6zM1464.1 937.4h36.2L1482.2 970.9zM1468 955.4h36.2L1486.1 988.9zM1471.9 946.5h36.2L1490 980zM1475.8 952.9h36.2L1493.9 986.4zM1479.7 954.7h36.2L1497.8 988.2zM1483.6 955.9h36.2L1501.7 989.4zM1487.4 937h36.2L1505.5 970.5zM1491.3 940.3h36.2L1509.4 973.8zM1495.2 950.3h36.2L1513.3 983.8zM1499.1 950.2h36.2L1517.2 983.7zM1503 939.9h36.2L1521.1 973.4zM1506.9 943.3h36.2L1525 976.8zM1510.8 936.2h36.2L1528.9 969.7zM1514.7 936.4h36.2L1532.8 969.9zM1518.6 948.4h36.2L1536.7 981.9zM1522.5 942.9h36.2L1540.6 976.4zM1526.4 946.5h36.2L1544.5 980zM1530.3 954.4h36.2L1548.4 987.9zM1534.2 951.1h36.2L1552.3 984.6zM1538.1 943.5h36.2L1556.2 977zM1542 948.5h36.2L1560.1 982zM1545.9 947h36.2L1564 980.5zM1549.8 952.6h36.2L1567.9 986.1zM1553.7 941.7h36.2L1571.8 975.2zM1557.6 946.2h36.2L1575.7 979.7zM1561.5 963.9h36.2L1579.6 997.4zM1565.4 947.3h36.2L1583.5 980.8zM1569.3 946.3h36.2L1587.4 979.8zM1573.1 949.4h36.2L1591.2 982.9zM1577 963.3h36.2L1595.1 996.8zM1580.9 963.7h36.2L1599 997.2zM1584.8 967.7h36.2L1602.9 1001.2zM1588.7 972.5h36.2L1606.8 1006zM1592.6 964.2h36.2L1610.7 997.7zM1596.5 955.6h36.2L1614.6 989.1zM1600.4 958.5h36.2L1618.5 992zM1604.3 962h36.2L1622.4 995.5zM1608.2 959.3h36.2L1626.3 992.8zM1612.1 964.5h36.2L1630.2 998zM1616 977.3h36.2L1634.1 1010.8zM1619.9 963.9h36.2L1638 997.4zM1623.8 976.5h36.2L1641.9 1010zM1627.7 964.6h36.2L1645.8 998.1zM1631.6 979.7h36.2L1649.7 1013.2zM1635.5 985.5h36.2L1653.6 1019zM1639.4 971.2h36.2L1657.5 1004.7zM1643.3 987.3h36.2L1661.4 1020.8zM1647.2 970.7h36.2L1665.3 1004.2zM1651.1 983h36.2L1669.2 1016.5zM1654.9 974.5h36.2L1673 1008zM1658.8 992.2h36.2L1676.9 1025.7zM1662.7 981.7h36.2L1680.8 1015.2zM1666.6 979.4h36.2L1684.7 1012.9zM1670.5 993.3h36.2L1688.6 1026.8zM1674.4 982.6h36.2L1692.5 1016.1zM1678.3 994.6h36.2L1696.4 1028.1zM1682.2 992.3h36.2L1700.3 1025.8zM1686.1 991.7h36.2L1704.2 1025.2zM1690 985.5h36.2L1708.1 1019zM1693.9 997.8h36.2L1712 1031.3zM1697.8 997.6h36.2L1715.9 1031.1zM1701.7 984.5h36.2L1719.8 1018zM1705.6 986.5h36.2L1723.7 1020zM1709.5 994.1h36.2L1727.6 1027.6zM1713.4 998.6h36.2L1731.5 1032.1zM1717.3 989.1h36.2L1735.4 1022.6zM1721.2 995.8h36.2L1739.3 1029.3zM1725.1 1000.1h36.2L1743.2 1033.6zM1729 987.8h36.2L1747.1 1021.3zM1732.9 1003.6h36.2L1751 1037.1zM1736.7 990.5h36.2L1754.8 1024zM1740.6 994.8h36.2L1758.7 1028.3zM1744.5 994.9h36.2L1762.6 1028.4zM1748.4 994.8h36.2L1766.5 1028.3zM1752.3 994.2h36.2L1770.4 1027.7zM1756.2 992.5h36.2L1774.3 1026zM1760.1 992.4h36.2L1778.2 1025.9zM1764 1008h36.2L1782.1 1041.5zM1767.9 1010.3h36.2L1786 1043.8zM1771.8 994.9h36.2L1789.9 1028.4zM1775.7 1010.9h36.2L1793.8 1044.4zM1779.6 1011.3h36.2L1797.7 1044.8zM1783.5 998.5h36.2L1801.6 1032zM1787.4 996.4h36.2L1805.5 1029.9zM1791.3 999.2h36.2L1809.4 1032.7zM1795.2 1006.8h36.2L1813.3 1040.3zM1799.1 1011.6h36.2L1817.2 1045.1zM1803 998.8h36.2L1821.1 1032.3zM1806.9 1003.9h36.2L1825 1037.4zM1810.8 1006.8h36.2L1828.9 1040.3zM1814.7 1021.1h36.2L1832.8 1054.6zM1818.5 1018.7h36.2L1836.6 1052.2zM1822.4 1022.5h36.2L1840.5 1056zM1826.3 1004.5h36.2L1844.4 1038zM1830.2 1020.1h36.2L1848.3 1053.6zM1834.1 1022h36.2L1852.2 1055.5zM1838 1013h36.2L1856.1 1046.5zM1841.9 1023h36.2L1860 1056.5zM1845.8 1015.5h36.2L1863.9 1049zM1849.7 1008.4h36.2L1867.8 1041.9zM1853.6 1010.7h36.2L1871.7 1044.2zM1857.5 1025.4h36.2L1875.6 1058.9zM1861.4 1011.4h36.2L1879.5 1044.9zM1865.3 1024h36.2L1883.4 1057.5zM1869.2 1021.2h36.2L1887.3 1054.7zM1873.1 1027.3h36.2L1891.2 1060.8zM1877 1013.6h36.2L1895.1 1047.1zM1880.9 1029.5h36.2L1899 1063zM1884.8 1020h36.2L1902.9 1053.5zM1888.7 1023.3h36.2L1906.8 1056.8zM1892.6 1022.8h36.2L1910.7 1056.3zM1896.5 1037h36.2L1914.6 1070.5zM1900.4 1028.2h36.2L1918.5 1061.7zM1904.2 1020.3h36.2L1922.3 1053.8zM1908.1 1029.4h36.2L1926.2 1062.9zM1912 1039.2h36.2L1930.1 1072.7zM1915.9 1042.7h36.2L1934 1076.2zM1919.8 1038.7h36.2L1937.9 1072.2zM1923.7 1029.6h36.2L1941.8 1063.1zM1927.6 1046.1h36.2L1945.7 1079.6zM1931.5 1046.8h36.2L1949.6 1080.3zM1935.4 1034.4h36.2L1953.5 1067.9zM1939.3 1031.2h36.2L1957.4 1064.7zM1943.2 1042.3h36.2L1961.3 1075.8zM1947.1 1038.1h36.2L1965.2 1071.6zM1951 1048.1h36.2L1969.1 1081.6zM1954.9 1048.8h36.2L1973 1082.3zM1958.8 1045.3h36.2L1976.9 1078.8zM1962.7 1051.8h36.2L1980.8 1085.3zM1966.6 1047.9h36.2L1984.7 1081.4zM1970.5 1055.1h36.2L1988.6 1088.6zM1974.4 1039.5h36.2L1992.5 1073zM1978.3 1045.5h36.2L1996.4 1079zM1982.2 1058.9h36.2L2000.3 1092.4zM1986 1058.2h36.2L2004.1 1091.7zM1989.9 1045h36.2L2008 1078.5zM1993.8 1056.6h36.2L2011.9 1090.1zM1997.7 1059.8h36.2L2015.8 1093.3zM2001.6 1064.8h36.2L2019.7 1098.3zM2005.5 1051.6h36.2L2023.6 1085.1zM2009.4 1054.8h36.2L2027.5 1088.3zM2013.3 1050.4h36.2L2031.4 1083.9zM2017.2 1065.9h36.2L2035.3 1099.4zM2021.1 1053.7h36.2L2039.2 1087.2zM2025 1053.2h36.2L2043.1 1086.7zM2028.9 1054.1h36.2L2047 1087.6zM2032.8 1056.3h36.2L2050.9 1089.8zM2036.7 1064.6h36.2L2054.8 1098.1zM2040.6 1072.9h36.2L2058.7 1106.4zM2044.5 1060.7h36.2L2062.6 1094.2zM2048.4 1074.9h36.2L2066.5 1108.4zM2052.3 1074.8h36.2L2070.4 1108.3zM2056.2 1069.6h36.2L2074.3 1103.1zM2060.1 1076h36.2L2078.2 1109.5zM2064 1070.4h36.2L2082.1 1103.9zM2067.8 1062.2h36.2L2085.9 1095.7zM2071.7 1077.8h36.2L2089.8 1111.3zM2075.6 1064.9h36.2L2093.7 1098.4zM2079.5 1062.5h36.2L2097.6 1096zM2083.4 1082.8h36.2L2101.5 1116.3zM2087.3 1076.5h36.2L2105.4 1110zM2091.2 1070.2h36.2L2109.3 1103.7zM2095.1 1070.5h36.2L2113.2 1104zM2099 1082h36.2L2117.1 1115.5zM2102.9 1070.7h36.2L2121 1104.2zM2106.8 1081.6h36.2L2124.9 1115.1zM2110.7 1085.6h36.2L2128.8 1119.1zM2114.6 1078.9h36.2L2132.7 1112.4zM2118.5 1077.2h36.2L2136.6 1110.7zM2122.4 1073.5h36.2L2140.5 1107zM2126.3 1077.1h36.2L2144.4 1110.6zM2130.2 1090.3h36.2L2148.3 1123.8zM2134.1 1079.8h36.2L2152.2 1113.3zM2138 1086.2h36.2L2156.1 1119.7zM2141.9 1077.6h36.2L2160 1111.1zM2145.8 1091.9h36.2L2163.9 1125.4zM2149.7 1078.7h36.2L2167.8 1112.2zM2153.5 1076.2h36.2L2171.6 1109.7zM2157.4 1092h36.2L2175.5 1125.5zM2161.3 1092.3h36.2L2179.4 1125.8zM2165.2 1074.4h36.2L2183.3 1107.9zM2169.1 1074.3h36.2L2187.2 1107.8zM2173 1089.6h36.2L2191.1 1123.1zM2176.9 1073.8h36.2L2195 1107.3zM2180.8 1085h36.2L2198.9 1118.5zM2184.7 1081.6h36.2L2202.8 1115.1zM2188.6 1083.3h36.2L2206.7 1116.8zM2192.5 1086.3h36.2L2210.6 1119.8zM2196.4 1074.1h36.2L2214.5 1107.6zM2200.3 1079.1h36.2L2218.4 1112.6zM2204.2 1073.2h36.2L2222.3 1106.7zM2208.1 1078.7h36.2L2226.2 1112.2zM2212 1073.1h36.2L2230.1 1106.6zM2215.9 1081.1h36.2L2234 1114.6zM2219.8 1082.5h36.2L2237.9 1116zM2223.7 1079.4h36.2L2241.8 1112.9zM2227.6 1091.2h36.2L2245.7 1124.7zM2231.5 1075.2h36.2L2249.6 1108.7zM2235.3 1088.7h36.2L2253.4 1122.2zM2239.2 1071.9h36.2L2257.3 1105.4zM2243.1 1089.8h36.2L2261.2 1123.3zM2247 1075.4h36.2L2265.1 1108.9zM2250.9 1074h36.2L2269 1107.5zM2254.8 1078.4h36.2L2272.9 1111.9zM2258.7 1087.7h36.2L2276.8 1121.2zM2262.6 1072.3h36.2L2280.7 1105.8zM2266.5 1083.1h36.2L2284.6 1116.6zM2270.4 1083.4h36.2L2288.5 1116.9zM2274.3 1073.5h36.2L2292.4 1107z"/>
<path fill="#00f" d="M323.4 1543h42.8L346.2 1508.8h-3zM327.2 1543h42.8L350.1 1508.8h-3zM331.1 1543h42.8L354 1508.8h-3zM335 1543h42.8L357.9 1508.8h-3zM338.9 1543h42.8L361.8 1508.8h-3zM342.8 1543h42.8L365.7 1508.8h-3zM346.7 1543h42.8L369.6 1508.8h-3zM350.6 1543h42.8L373.5 1508.8h-3zM354.5 1543h42.8L377.4 1508.8h-3zM358.4 1543h42.8L381.3 1508.8h-3zM362.3 1543h42.8L385.2 1508.8h-3zM366.2 1543h42.8L389.1 1508.8h-3zM370.1 1543h42.8L393 1508.8h-3zM374 1543h42.8L396.9 1508.8h-3zM377.9 1543h42.8L400.8 1508.8h-3zM381.8 1543h42.8L404.7 1508.8h-3zM385.7 1543h42.8L408.6 1508.8h-3zM389.6 1543h42.8L412.5 1508.8h-3zM393.5 1543h42.8L416.4 1508.8h-3zM397.4 1543h42.8L420.3 1508.8h-3zM401.3 1543h42.8L424.2 1508.8h-3zM405.2 1543h42.8L428.1 1508.8h-3zM409 1543h42.8L431.9 1508.8h-3zM412.9 1543h42.8L435.8 1508.8h-3zM416.8 1543h42.8L439.7 1508.8h-3zM420.7 1543h42.8L443.6 1508.8h-3zM424.6 1543h42.8L447.5 1508.8h-3zM428.5 1543h42.8L451.4 1508.8h-3zM432.4 1543h42.8L455.3 1508.8h-3zM436.3 1543h42.8L459.2 1508.8h-3zM440.2 1543h42.8L463.1 1508.8h-3zM444.1 1543h42.8L467 1508.8h-3zM448 1543h42.8L470.9 1508.8h-3zM451.9 1543h42.8L474.8 1508.8h-3zM455.8 1543h42.8L478.7 1508.8h-3zM459.7 1543h42.8L482.6 1508.8h-3zM463.6 1543h42.8L486.5 1508.8h-3zM467.5 1543h42.8L490.4 1508.8h-3zM471.4 1543h42.8L494.3 1508.8h-3zM475.3 1543h42.8L498.2 1508.8h-3zM479.2 1543h42.8L502.1 1508.8h-3zM483.1 1543h42.8L506 1508.8h-3zM487 1543h42.8L509.9 1508.8h-3zM490.8 1543h42.8L513.7 1508.8h-3zM494.7 1543h42.8L517.6 1508.8h-3zM498.6 1543h42.8L521.5 1508.8h-3zM502.5 1543h42.8L525.4 1508.8h-3zM506.4 1543h42.8L529.3 1508.8h-3zM510.3 1543h42.8L533.2 1508.8h-3zM514.2 1543h42.8L537.1 1508.8h-3zM518.1 1543h42.8L541 1508.8h-3zM522 1543h42.8L544.9 1508.8h-3zM525.9 1543h42.8L548.8 1508.8h-3zM529.8 1543h42.8L552.7 1508.8h-3zM533.7 1543h42.8L556.6 1508.8h-3zM537.6 1543h42.8L560.5 1508.8h-3zM541.5 1543h42.8L564.4 1508.8h-3zM545.4 1543h42.8L568.3 1508.8h-3zM549.3 1543h42.8L572.2 1508.8h-3zM553.2 1543h42.8L576.1 1508.8h-3zM557.1 1543h42.8L580 1508.8h-3zM561 1542.2h42.8L583.9 1508h-3zM564.9 1540.6h42.8L587.8 1506.4h-3zM568.8 1538.7h42.8L591.7 1504.5h-3zM572.6 1533.9h42.8L595.5 1499.7h-3zM576.5 1532.6h42.8L599.4 1498.4h-3zM580.4 1527.3h42.8L603.3 1493.1h-3zM584.3 1527.2h42.8L607.2 1493h-3zM588.2 1522.5h42.8L611.1 1488.3h-3zM592.1 1522.8h42.8L615 1488.6h-3zM596 1522.3h42.8L618.9 1488.1h-3zM599.9 1520.8h42.8L622.8 1486.6h-3zM603.8 1520.7h42.8L626.7 1486.5h-3zM607.7 1519.3h42.8L630.6 1485.1h-3zM611.6 1519.8h42.8L634.5 1485.6h-3zM615.5 1517h42.8L638.4 1482.8h-3zM619.4 1516.6h42.8L642.3 1482.4h-3zM623.3 1515.4h42.8L646.2 1481.2h-3zM627.2 1515.4h42.8L650.1 1481.2h-3zM631.1 1514h42.8L654 1479.8h-3zM635 1517.9h42.8L657.9 1483.7h-3zM638.9 1517.5h42.8L661.8 1483.3h-3zM642.8 1510.9h42.8L665.7 1476.7h-3zM646.7 1500.5h42.8L669.6 1466.3h-3zM650.6 1491.2h42.8L673.5 1457h-3zM654.5 1481.5h42.8L677.4 1447.3h-3zM658.3 1471.5h42.8L681.2 1437.3h-3zM662.2 1456.8h42.8L685.1 1422.6h-3zM666.1 1440.4h42.8L689 1406.2h-3zM670 1423h42.8L692.9 1388.8h-3zM673.9 1395.2h42.8L696.8 1361h-3zM677.8 1374.6h42.8L700.7 1340.4h-3zM681.7 1340.6h42.8L704.6 1306.4h-3zM685.6 1309.1h42.8L708.5 1274.9h-3zM689.5 1280.3h42.8L712.4 1246.1h-3zM693.4 1252.4h42.8L716.3 1218.2h-3zM697.3 1217.8h42.8L720.2 1183.6h-3zM701.2 1163.2h42.8L724.1 1129h-3zM705.1 1120.8h42.8L728 1086.6h-3zM709 1073.1h42.8L731.9 1038.9h-3zM712.9 1045.3h42.8L735.8 1011.1h-3zM716.8 1004.5h42.8L739.7 970.3h-3zM720.7 939.9h42.8L743.6 905.7h-3zM724.6 895.2h42.8L747.5 861h-3zM728.5 850.1h42.8L751.4 815.9h-3zM732.4 813.5h42.8L755.3 779.3h-3zM736.3 768.5h42.8L759.2 734.3h-3zM740.1 696.9h42.8L763 662.7h-3zM744 640.5h42.8L766.9 606.3h-3zM747.9 582.7h42.8L770.8 548.5h-3zM751.8 521h42.8L774.7 486.8h-3zM755.7 484.2h42.8L778.6 450h-3zM759.6 455.4h42.8L782.5 421.2h-3zM763.5 432.3h42.8L786.4 398.1h-3zM767.4 414.4h42.8L790.3 380.2h-3zM771.3 392.6h42.8L794.2 358.4h-3zM775.2 344.5h42.8L798.1 310.3h-3zM779.1 325.9h42.8L802 291.7h-3zM783 315.5h42.8L805.9 281.3h-3zM786.9 303.3h42.8L809.8 269.1h-3zM790.8 350.6h42.8L813.7 316.4h-3zM794.7 310.7h42.8L817.6 276.5h-3zM798.6 314.1h42.8L821.5 279.9h-3zM802.5 316h42.8L825.4 281.8h-3zM806.4 318.4h42.8L829.3 284.2h-3zM810.3 332.4h42.8L833.2 298.2h-3zM814.2 332.7h42.8L837.1 298.5h-3zM818.1 340.9h42.8L841 306.7h-3zM821.9 347.9h42.8L844.8 313.7h-3zM825.8 347.3h42.8L848.7 313.1h-3zM829.7 359h42.8L852.6 324.8h-3zM833.6 358.8h42.8L856.5 324.6h-3zM837.5 366.1h42.8L860.4 331.9h-3zM841.4 382.1h42.8L864.3 347.9h-3zM845.3 383.5h42.8L868.2 349.3h-3zM849.2 391.7h42.8L872.1 357.5h-3zM853.1 392.1h42.8L876 357.9h-3zM857 411h42.8L879.9 376.8h-3zM860.9 417.1h42.8L883.8 382.9h-3zM864.8 417.8h42.8L887.7 383.6h-3zM868.7 427.8h42.8L891.6 393.6h-3zM872.6 429.2h42.8L895.5 395h-3zM876.5 443.3h42.8L899.4 409.1h-3zM880.4 452.3h42.8L903.3 418.1h-3zM884.3 445.7h42.8L907.2 411.5h-3zM888.2 464.8h42.8L911.1 430.6h-3zM892.1 472.7h42.8L915 438.5h-3zM896 477h42.8L918.9 442.8h-3zM899.9 482.3h42.8L922.8 448.1h-3zM903.7 490.5h42.8L926.6 456.3h-3zM907.6 490.7h42.8L930.5 456.5h-3zM911.5 490.7h42.8L934.4 456.5h-3zM915.4 511.8h42.8L938.3 477.6h-3zM919.3 514.1h42.8L942.2 479.9h-3zM923.2 515.8h42.8L946.1 481.6h-3zM927.1 520.1h42.8L950 485.9h-3zM931 526.5h42.8L953.9 492.3h-3zM934.9 550.1h42.8L957.8 515.9h-3zM938.8 552.1h42.8L961.7 517.9h-3zM942.7 556.3h42.8L965.6 522.1h-3zM946.6 581.1h42.8L969.5 546.9h-3zM950.5 581.8h42.8L973.4 547.6h-3zM954.4 600.3h42.8L977.3 566.1h-3zM958.3 599.6h42.8L981.2 565.4h-3zM962.2 607.1h42.8L985.1 572.9h-3zM966.1 622.9h42.8L989 588.7h-3zM970 641h42.8L992.9 606.8h-3zM973.9 648.7h42.8L996.8 614.5h-3zM977.8 651.2h42.8L1000.7 617h-3zM981.7 649.9h42.8L1004.6 615.7h-3zM985.6 667.5h42.8L1008.5 633.3h-3zM989.4 665.2h42.8L1012.3 631h-3zM993.3 676.8h42.8L1016.2 642.6h-3zM997.2 684.8h42.8L1020.1 650.6h-3zM1001.1 681.6h42.8L1024 647.4h-3zM1005 694.8h42.8L1027.9 660.6h-3zM1008.9 698.8h42.8L1031.8 664.6h-3zM1012.8 696.1h42.8L1035.7 661.9h-3zM1016.7 706.1h42.8L1039.6 671.9h-3zM1020.6 705.5h42.8L1043.5 671.3h-3zM1024.5 715h42.8L1047.4 680.8h-3zM1028.4 726.4h42.8L1051.3 692.2h-3zM1032.3 726.5h42.8L1055.2 692.3h-3zM1036.2 723.3h42.8L1059.1 689.1h-3zM1040.1 733.1h42.8L1063 698.9h-3zM1044 731.9h42.8L1066.9 697.7h-3zM1047.9 753.2h42.8L1070.8 719h-3zM1051.8 753.9h42.8L1074.7 719.7h-3zM1055.7 751.4h42.8L1078.6 717.2h-3zM1059.6 758.4h42.8L1082.5 724.2h-3zM1063.5 766.1h42.8L1086.4 731.9h-3zM1067.4 769.4h42.8L1090.3 735.2h-3zM1071.2 770.8h42.8L1094.1 736.6h-3zM1075.1 777.3h42.8L1098 743.1h-3zM1079 782.5h42.8L1101.9 748.3h-3zM1082.9 784h42.8L1105.8 749.8h-3zM1086.8 783.7h42.8L1109.7 749.5h-3zM1090.7 792h42.8L1113.6 757.8h-3zM1094.6 786.4h42.8L1117.5 752.2h-3zM1098.5 788.5h42.8L1121.4 754.3h-3zM1102.4 786.7h42.8L1125.3 752.5h-3zM1106.3 793.3h42.8L1129.2 759.1h-3zM1110.2 800.9h42.8L1133.1 766.7h-3zM1114.1 792.4h42.8L1137 758.2h-3zM1118 787.2h42.8L1140.9 753h-3zM1121.9 790.1h42.8L1144.8 755.9h-3zM1125.8 789.6h42.8L1148.7 755.4h-3zM1129.7 794.1h42.8L1152.6 759.9h-3zM1133.6 793.9h42.8L1156.5 759.7h-3zM1137.5 785.9h42.8L1160.4 751.7h-3zM1141.4 795.8h42.8L1164.3 761.6h-3zM1145.3 781.8h42.8L1168.2 747.6h-3zM1149.2 780.6h42.8L1172.1 746.4h-3zM1153 778.4h42.8L1175.9 744.2h-3zM1156.9 790.5h42.8L1179.8 756.3h-3zM1160.8 789.8h42.8L1183.7 755.6h-3zM1164.7 776.2h42.8L1187.6 742h-3zM1168.6 783.4h42.8L1191.5 749.2h-3zM1172.5 784h42.8L1195.4 749.8h-3zM1176.4 780.9h42.8L1199.3 746.7h-3zM1180.3 774h42.8L1203.2 739.8h-3zM1184.2 781.1h42.8L1207.1 746.9h-3zM1188.1 774.7h42.8L1211 740.5h-3zM1192 770h42.8L1214.9 735.8h-3zM1195.9 768.1h42.8L1218.8 733.9h-3zM1199.8 778.3h42.8L1222.7 744.1h-3zM1203.7 765.5h42.8L1226.6 731.3h-3zM1207.6 771.7h42.8L1230.5 737.5h-3zM1211.5 771.7h42.8L1234.4 737.5h-3zM1215.4 769.2h42.8L1238.3 735h-3zM1219.3 774.7h42.8L1242.2 740.5h-3zM1223.2 765.7h42.8L1246.1 731.5h-3zM1227.1 776.9h42.8L1250 742.7h-3zM1231 772.1h42.8L1253.9 737.9h-3zM1234.9 779.1h42.8L1257.8 744.9h-3zM1238.7 772.7h42.8L1261.6 738.5h-3zM1242.6 770.2h42.8L1265.5 736h-3zM1246.5 772.3h42.8L1269.4 738.1h-3zM1250.4 785.7h42.8L1273.3 751.5h-3zM1254.3 780.6h42.8L1277.2 746.4h-3zM1258.2 780.1h42.8L1281.1 745.9h-3zM1262.1 793.3h42.8L1285 759.1h-3zM1266 793.4h42.8L1288.9 759.2h-3zM1269.9 791.1h42.8L1292.8 756.9h-3zM1273.8 793.6h42.8L1296.7 759.4h-3zM1277.7 801.3h42.8L1300.6 767.1h-3zM1281.6 800.8h42.8L1304.5 766.6h-3zM1285.5 803.5h42.8L1308.4 769.3h-3zM1289.4 812h42.8L1312.3 777.8h-3zM1293.3 810.2h42.8L1316.2 776h-3zM1297.2 814.6h42.8L1320.1 780.4h-3zM1301.1 816.3h42.8L1324 782.1h-3zM1305 822.6h42.8L1327.9 788.4h-3zM1308.9 829.2h42.8L1331.8 795h-3zM1312.8 831.6h42.8L1335.7 797.4h-3zM1316.7 828.4h42.8L1339.6 794.2h-3zM1320.5 842.4h42.8L1343.4 808.2h-3zM1324.4 846.7h42.8L1347.3 812.5h-3zM1328.3 852h42.8L1351.2 817.8h-3zM1332.2 844.7h42.8L1355.1 810.5h-3zM1336.1 847.2h42.8L1359 813h-3zM1340 861.2h42.8L1362.9 827h-3zM1343.9 864.8h42.8L1366.8 830.6h-3zM1347.8 869.6h42.8L1370.7 835.4h-3zM1351.7 867.6h42.8L1374.6 833.4h-3zM1355.6 873.5h42.8L1378.5 839.3h-3zM1359.5 872.5h42.8L1382.4 838.3h-3zM1363.4 884.2h42.8L1386.3 850h-3zM1367.3 878.6h42.8L1390.2 844.4h-3zM1371.2 887.3h42.8L1394.1 853.1h-3zM1375.1 885.5h42.8L1398 851.3h-3zM1379 888.4h42.8L1401.9 854.2h-3zM1382.9 890.2h42.8L1405.8 856h-3zM1386.8 898.1h42.8L1409.7 863.9h-3zM1390.7 899h42.8L1413.6 864.8h-3zM1394.6 902.3h42.8L1417.5 868.1h-3zM1398.5 910h42.8L1421.4 875.8h-3zM1402.3 908.6h42.8L1425.2 874.4h-3zM1406.2 906.1h42.8L1429.1 871.9h-3zM1410.1 908.8h42.8L1433 874.6h-3zM1414 921.8h42.8L1436.9 887.6h-3zM1417.9 916.1h42.8L1440.8 881.9h-3zM1421.8 923h42.8L1444.7 888.8h-3zM1425.7 926.9h42.8L1448.6 892.7h-3zM1429.6 928.6h42.8L1452.5 894.4h-3zM1433.5 922.2h42.8L1456.4 888h-3zM1437.4 922.2h42.8L1460.3 888h-3zM1441.3 928.5h42.8L1464.2 894.3h-3zM1445.2 932.1h42.8L1468.1 897.9h-3zM1449.1 931.4h42.8L1472 897.2h-3zM1453 929h42.8L1475.9 894.8h-3zM1456.9 931h42.8L1479.8 896.8h-3zM1460.8 940h42.8L1483.7 905.8h-3zM1464.7 939.7h42.8L1487.6 905.5h-3zM1468.6 932.9h42.8L1491.5 898.7h-3zM1472.5 938.2h42.8L1495.4 904h-3zM1476.4 936.8h42.8L1499.3 902.6h-3zM1480.3 936.3h42.8L1503.2 902.1h-3zM1484.1 938.5h42.8L1507 904.3h-3zM1488 938.1h42.8L1510.9 903.9h-3zM1491.9 940.7h42.8L1514.8 906.5h-3zM1495.8 945.2h42.8L1518.7 911h-3zM1499.7 946.1h42.8L1522.6 911.9h-3zM1503.6 938h42.8L1526.5 903.8h-3zM1507.5 948.8h42.8L1530.4 914.6h-3zM1511.4 941.9h42.8L1534.3 907.7h-3zM1515.3 940.9h42.8L1538.2 906.7h-3zM1519.2 949h42.8L1542.1 914.8h-3zM1523.1 951.6h42.8L1546 917.4h-3zM1527 949.3h42.8L1549.9 915.1h-3zM1530.9 951.3h42.8L1553.8 917.1h-3zM1534.8 951.1h42.8L1557.7 916.9h-3zM1538.7 953h42.8L1561.6 918.8h-3zM1542.6 948.7h42.8L1565.5 914.5h-3zM1546.5 959.1h42.8L1569.4 924.9h-3zM1550.4 951.9h42.8L1573.3 917.7h-3zM1554.3 963.1h42.8L1577.2 928.9h-3zM1558.2 955.3h42.8L1581.1 921.1h-3zM1562.1 963.8h42.8L1585 929.6h-3zM1566 960.7h42.8L1588.9 926.5h-3zM1569.8 970.2h42.8L1592.7 936h-3zM1573.7 967.6h42.8L1596.6 933.4h-3zM1577.6 966.1h42.8L1600.5 931.9h-3zM1581.5 968.2h42.8L1604.4 934h-3zM1585.4 968h42.8L1608.3 933.8h-3zM1589.3 976.7h42.8L1612.2 942.5h-3zM1593.2 975.6h42.8L1616.1 941.4h-3zM1597.1 974h42.8L1620 939.8h-3zM1601 981.8h42.8L1623.9 947.6h-3zM1604.9 974.5h42.8L1627.8 940.3h-3zM1608.8 980.8h42.8L1631.7 946.6h-3zM1612.7 983.9h42.8L1635.6 949.7h-3zM1616.6 985.4h42.8L1639.5 951.2h-3zM1620.5 981.5h42.8L1643.4 947.3h-3zM1624.4 989.5h42.8L1647.3 955.3h-3zM1628.3 989h42.8L1651.2 954.8h-3zM1632.2 989.7h42.8L1655.1 955.5h-3zM1636.1 991.4h42.8L1659 957.2h-3zM1640 987h42.8L1662.9 952.8h-3zM1643.9 989.6h42.8L1666.8 955.4h-3zM1647.8 987.8h42.8L1670.7 953.6h-3zM1651.6 990.8h42.8L1674.5 956.6h-3zM1655.5 996.9h42.8L1678.4 962.7h-3zM1659.4 997.6h42.8L1682.3 963.4h-3zM1663.3 1000.5h42.8L1686.2 966.3h-3zM1667.2 1000.5h42.8L1690.1 966.3h-3zM1671.1 997.1h42.8L1694 962.9h-3zM1675 996.8h42.8L1697.9 962.6h-3zM1678.9 1003h42.8L1701.8 968.8h-3zM1682.8 1003.5h42.8L1705.7 969.3h-3zM1686.7 999.1h42.8L1709.6 964.9h-3zM1690.6 998.7h42.8L1713.5 964.5h-3zM1694.5 1008.8h42.8L1717.4 974.6h-3zM1698.4 1009.8h42.8L1721.3 975.6h-3zM1702.3 1003.3h42.8L1725.2 969.1h-3zM1706.2 1007.3h42.8L1729.1 973.1h-3zM1710.1 1009.3h42.8L1733 975.1h-3zM1714 1007.3h42.8L1736.9 973.1h-3zM1717.9 1007h42.8L1740.8 972.8h-3zM1721.8 1015.3h42.8L1744.7 981.1h-3zM1725.7 1007h42.8L1748.6 972.8h-3zM1729.6 1007.9h42.8L1752.5 973.7h-3zM1733.4 1014.7h42.8L1756.3 980.5h-3zM1737.3 1014.9h42.8L1760.2 980.7h-3zM1741.2 1017.9h42.8L1764.1 983.7h-3zM1745.1 1014.8h42.8L1768 980.6h-3zM1749 1020.2h42.8L1771.9 986h-3zM1752.9 1017.1h42.8L1775.8 982.9h-3zM1756.8 1014.3h42.8L1779.7 980.1h-3zM1760.7 1019.2h42.8L1783.6 985h-3zM1764.6 1016.6h42.8L1787.5 982.4h-3zM1768.5 1024.5h42.8L1791.4 990.3h-3zM1772.4 1017.7h42.8L1795.3 983.5h-3zM1776.3 1026.6h42.8L1799.2 992.4h-3zM1780.2 1026.6h42.8L1803.1 992.4h-3zM1784.1 1021.6h42.8L1807 987.4h-3zM1788 1027.3h42.8L1810.9 993.1h-3zM1791.9 1029.7h42.8L1814.8 995.5h-3zM1795.8 1030.7h42.8L1818.7 996.5h-3zM1799.7 1024h42.8L1822.6 989.8h-3zM1803.6 1032.8h42.8L1826.5 998.6h-3zM1807.5 1033.2h42.8L1830.4 999h-3zM1811.4 1024.9h42.8L1834.3 990.7h-3zM1815.2 1027.1h42.8L1838.1 992.9h-3zM1819.1 1032.6h42.8L1842 998.4h-3zM1823 1035h42.8L1845.9 1000.8h-3zM1826.9 1028.5h42.8L1849.8 994.3h-3zM1830.8 1029.9h42.8L1853.7 995.7h-3zM1834.7 1031.8h42.8L1857.6 997.6h-3zM1838.6 1034h42.8L1861.5 999.8h-3zM1842.5 1034.8h42.8L1865.4 1000.6h-3zM1846.4 1031.2h42.8L1869.3 997h-3zM1850.3 1036.3h42.8L1873.2 1002.1h-3zM1854.2 1041.7h42.8L1877.1 1007.5h-3zM1858.1 1042.4h42.8L1881 1008.2h-3zM1862 1037.5h42.8L1884.9 1003.3h-3zM1865.9 1036.8h42.8L1888.8 1002.6h-3zM1869.8 1038.6h42.8L1892.7 1004.4h-3zM1873.7 1038.2h42.8L1896.6 1004h-3zM1877.6 1044.1h42.8L1900.5 1009.9h-3zM1881.5 1044h42.8L1904.4 1009.8h-3zM1885.4 1045.7h42.8L1908.3 1011.5h-3zM1889.3 1045.4h42.8L1912.2 1011.2h-3zM1893.2 1047.1h42.8L1916.1 1012.9h-3zM1897.1 1041.6h42.8L1920 1007.4h-3zM1900.9 1049.5h42.8L1923.8 1015.3h-3zM1904.8 1049.7h42.8L1927.7 1015.5h-3zM1908.7 1044.7h42.8L1931.6 1010.5h-3zM1912.6 1049.3h42.8L1935.5 1015.1h-3zM1916.5 1050.5h42.8L1939.4 1016.3h-3zM1920.4 1044.6h42.8L1943.3 1010.4h-3zM1924.3 1045.9h42.8L1947.2 1011.7h-3zM1928.2 1053.7h42.8L1951.1 1019.5h-3zM1932.1 1054.9h42.8L1955 1020.7h-3zM1936 1052.1h42.8L1958.9 1017.9h-3zM1939.9 1051.5h42.8L1962.8 1017.3h-3zM1943.8 1055.1h42.8L1966.7 1020.9h-3zM1947.7 1052.6h42.8L1970.6 1018.4h-3zM1951.6 1052.3h42.8L1974.5 1018.1h-3zM1955.5 1051.7h42.8L1978.4 1017.5h-3zM1959.4 1058.5h42.8L1982.3 1024.3h-3zM1963.3 1054.5h42.8L1986.2 1020.3h-3zM1967.2 1061.3h42.8L1990.1 1027.1h-3zM1971.1 1061.8h42.8L1994 1027.6h-3zM1975 1062.5h42.8L1997.9 1028.3h-3zM1978.9 1062.5h42.8L2001.8 1028.3h-3zM1982.7 1056.1h42.8L2005.6 1021.9h-3zM1986.6 1061.3h42.8L2009.5 1027.1h-3zM1990.5 1060.4h42.8L2013.4 1026.2h-3zM1994.4 1061.5h42.8L2017.3 1027.3h-3zM1998.3 1064.4h42.8L2021.2 1030.2h-3zM2002.2 1066.3h42.8L2025.1 1032.1h-3zM2006.1 1065.6h42.8L2029 1031.4h-3zM2010 1059.1h42.8L2032.9 1024.9h-3zM2013.9 1065.2h42.8L2036.8 1031h-3zM2017.8 1064.8h42.8L2040.7 1030.6h-3zM2021.7 1066.8h42.8L2044.6 1032.6h-3zM2025.6 1061.9h42.8L2048.5 1027.7h-3zM2029.5 1062.6h42.8L2052.4 1028.4h-3zM2033.4 1066.9h42.8L2056.3 1032.7h-3zM2037.3 1065.6h42.8L2060.2 1031.4h-3zM2041.2 1067.5h42.8L2064.1 1033.3h-3zM2045.1 1065.5h42.8L2068 1031.3h-3zM2049 1065.6h42.8L2071.9 1031.4h-3zM2052.9 1066.2h42.8L2075.8 1032h-3zM2056.8 1063.6h42.8L2079.7 1029.4h-3zM2060.7 1063.6h42.8L2083.6 1029.4h-3zM2064.5 1072.7h42.8L2087.4 1038.5h-3zM2068.4 1070.2h42.8L2091.3 1036h-3zM2072.3 1073.5h42.8L2095.2 1039.3h-3zM2076.2 1070.9h42.8L2099.1 1036.7h-3zM2080.1 1066.5h42.8L2103 1032.3h-3zM2084 1067.9h42.8L2106.9 1033.7h-3zM2087.9 1069.4h42.8L2110.8 1035.2h-3zM2091.8 1074.8h42.8L2114.7 1040.6h-3zM2095.7 1067.7h42.8L2118.6 1033.5h-3zM2099.6 1069.9h42.8L2122.5 1035.7h-3zM2103.5 1073.9h42.8L2126.4 1039.7h-3zM2107.4 1068.9h42.8L2130.3 1034.7h-3zM2111.3 1076.7h42.8L2134.2 1042.5h-3zM2115.2 1075.8h42.8L2138.1 1041.6h-3zM2119.1 1069.8h42.8L2142 1035.6h-3zM2123 1077.5h42.8L2145.9 1043.3h-3zM2126.9 1077.1h42.8L2149.8 1042.9h-3zM2130.8 1073.6h42.8L2153.7 1039.4h-3zM2134.7 1071.6h42.8L2157.6 1037.4h-3zM2138.6 1073h42.8L2161.5 1038.8h-3zM2142.5 1078.9h42.8L2165.4 1044.7h-3zM2146.4 1077.3h42.8L2169.3 1043.1h-3zM2150.2 1072.7h42.8L2173.1 1038.5h-3zM2154.1 1077.1h42.8L2177 1042.9h-3zM2158 1078.7h42.8L2180.9 1044.5h-3zM2161.9 1080.5h42.8L2184.8 1046.3h-3zM2165.8 1078.6h42.8L2188.7 1044.4h-3zM2169.7 1072.1h42.8L2192.6 1037.9h-3zM2173.6 1080.8h42.8L2196.5 1046.6h-3zM2177.5 1076h42.8L2200.4 1041.8h-3zM2181.4 1073h42.8L2204.3 1038.8h-3zM2185.3 1074.9h42.8L2208.2 1040.7h-3zM2189.2 1079.8h42.8L2212.1 1045.6h-3zM2193.1 1075.9h42.8L2216 1041.7h-3zM2197 1081.6h42.8L2219.9 1047.4h-3zM2200.9 1078.1h42.8L2223.8 1043.9h-3zM2204.8 1080.8h42.8L2227.7 1046.6h-3zM2208.7 1074.8h42.8L2231.6 1040.6h-3zM2212.6 1075h42.8L2235.5 1040.8h-3zM2216.5 1076.1h42.8L2239.4 1041.9h-3zM2220.4 1080.6h42.8L2243.3 1046.4h-3zM2224.3 1076.2h42.8L2247.2 1042h-3zM2228.2 1074.9h42.8L2251.1 1040.7h-3zM2232 1081.2h42.8L2254.9 1047h-3zM2235.9 1079.3h42.8L2258.8 1045.1h-3zM2239.8 1083.3h42.8L2262.7 1049.1h-3zM2243.7 1083.9h42.8L2266.6 1049.7h-3zM2247.6 1077.8h42.8L2270.5 1043.6h-3zM2251.5 1084.6h42.8L2274.4 1050.4h-3zM2255.4 1079.3h42.8L2278.3 1045.1h-3zM2259.3 1084.5h42.8L2282.2 1050.3h-3zM2263.2 1078.9h42.8L2286.1 1044.7h-3zM2267.1 1078.3h42.8L2290 1044.1h-3zM2271 1076.9h42.8L2293.9 1042.7h-3z"/>
<g fill="none" stroke="#008000" stroke-width="7.3"><circle cx="344.8" cy="1531" r="13.8"/><circle cx="348.6" cy="1531" r="13.8"/><circle cx="352.5" cy="1531" r="13.8"/><circle cx="356.4" cy="1531" r="13.8"/><circle cx="360.3" cy="1531" r="13.8"/><circle cx="364.2" cy="1531" r="13.8"/><circle cx="368.1" cy="1531" r="13.8"/><circle cx="372" cy="1531" r="13.8"/><circle cx="375.9" cy="1531" r="13.8"/><circle cx="379.8" cy="1531" r="13.8"/><circle cx="383.7" cy="1531" r="13.8"/><circle cx="387.6" cy="1531" r="13.8"/><circle cx="391.5" cy="1531" r="13.8"/><circle cx="395.4" cy="1531" r="13.8"/><circle cx="399.3" cy="1531" r="13.8"/><circle cx="403.2" cy="1531" r="13.8"/><circle cx="407.1" cy="1531" r="13.8"/><circle cx="411" cy="1531" r="13.8"/><circle cx="414.9" cy="1531" r="13.8"/><circle cx="418.8" cy="1531" r="13.8"/><circle cx="422.7" cy="1531" r="13.8"/><circle cx="426.6" cy="1531" r="13.8"/><circle cx="430.4" cy="1531" r="13.8"/><circle cx="434.3" cy="1531" r="13.8"/><circle cx="438.2" cy="1531" r="13.8"/><circle cx="442.1" cy="1531" r="13.8"/><circle cx="446" cy="1531" r="13.8"/><circle cx="449.9" cy="1531" r="13.8"/><circle cx="453.8" cy="1531" r="13.8"/><circle cx="457.7" cy="1531" r="13.8"/><circle cx="461.6" cy="1531" r="13.8"/><circle cx="465.5" cy="1531" r="13.8"/><circle cx="469.4" cy="1531" r="13.8"/><circle cx="473.3" cy="1531" r="13.8"/><circle cx="477.2" cy="1531" r="13.8"/><circle cx="481.1" cy="1531" r="13.8"/><circle cx="485" cy="1531" r="13.8"/><circle cx="488.9" cy="1531" r="13.8"/><circle cx="492.8" cy="1531" r="13.8"/><circle cx="496.7" cy="1531" r="13.8"/><circle cx="500.6" cy="1531" r="13.8"/><circle cx="504.5" cy="1531" r="13.8"/><circle cx="508.4" cy="1531" r="13.8"/><circle cx="512.2" cy="1531" r="13.8"/><circle cx="516.1" cy="1531" r="13.8"/><circle cx="520" cy="1531" r="13.8"/><circle cx="523.9" cy="1531" r="13.8"/><circle cx="527.8" cy="1531" r="13.8"/><circle cx="531.7" cy="1531" r="13.8"/><circle cx="535.6" cy="1531" r="13.8"/><circle cx="539.5" cy="1531" r="13.8"/><circle cx="543.4" cy="1531" r="13.8"/><circle cx="547.3" cy="1531" r="13.8"/><circle cx="551.2" cy="1531" r="13.8"/><circle cx="555.1" cy="1531" r="13.8"/><circle cx="559" cy="1531" r="13.8"/><circle cx="562.9" cy="1531" r="13.8"/><circle cx="566.8" cy="1531" r="13.8"/><circle cx="570.7" cy="1531" r="13.8"/><circle cx="574.6" cy="1531" r="13.8"/><circle cx="578.5" cy="1531" r="13.8"/><circle cx="582.4" cy="1531" r="13.8"/><circle cx="586.3" cy="1531" r="13.8"/><circle cx="590.2" cy="1531" r="13.8"/><circle cx="594" cy="1531" r="13.8"/><circle cx="597.9" cy="1531" r="13.8"/><circle cx="601.8" cy="1530.8" r="13.8"/><circle cx="605.7" cy="1530.4" r="13.8"/><circle cx="609.6" cy="1529.7" r="13.8"/><circle cx="613.5" cy="1528.9" r="13.8"/><circle cx="617.4" cy="1528.1" r="13.8"/><circle cx="621.3" cy="1527.4" r="13.8"/><circle cx="625.2" cy="1526.2" r="13.8"/><circle cx="629.1" cy="1525.1" r="13.8"/><circle cx="633" cy="1524.2" r="13.8"/><circle cx="636.9" cy="1522.3" r="13.8"/><circle cx="640.8" cy="1520.8" r="13.8"/><circle cx="644.7" cy="1516.9" r="13.8"/><circle cx="648.6" cy="1513.6" r="13.8"/><circle cx="652.5" cy="1509" r="13.8"/><circle cx="656.4" cy="1505.9" r="13.8"/><circle cx="660.3" cy="1498.7" r="13.8"/><circle cx="664.2" cy="1492.1" r="13.8"/><circle cx="668.1" cy="1483.2" r="13.8"/><circle cx="672" cy="1473.6" r="13.8"/><circle cx="675.9" cy="1461.1" r="13.8"/><circle cx="679.7" cy="1448.3" r="13.8"/><circle cx="683.6" cy="1433.1" r="13.8"/><circle cx="687.5" cy="1416.3" r="13.8"/><circle cx="691.4" cy="1389.9" r="13.8"/><circle cx="695.3" cy="1369.9" r="13.8"/><circle cx="699.2" cy="1337.5" r="13.8"/><circle cx="703.1" cy="1305.3" r="13.8"/><circle cx="707" cy="1277.3" r="13.8"/><circle cx="710.9" cy="1246.9" r="13.8"/><circle cx="714.8" cy="1218.5" r="13.8"/><circle cx="718.7" cy="1160.5" r="13.8"/><circle cx="722.6" cy="1121.4" r="13.8"/><circle cx="726.5" cy="1066.9" r="13.8"/><circle cx="730.4" cy="1019" r="13.8"/><circle cx="734.3" cy="983.2" r="13.8"/><circle cx="738.2" cy="914.3" r="13.8"/><circle cx="742.1" cy="847.4" r="13.8"/><circle cx="746" cy="785.4" r="13.8"/><circle cx="749.9" cy="750" r="13.8"/><circle cx="753.8" cy="679.5" r="13.8"/><circle cx="757.7" cy="582.7" r="13.8"/><circle cx="761.5" cy="534.8" r="13.8"/><circle cx="765.4" cy="509.6" r="13.8"/><circle cx="769.3" cy="452.6" r="13.8"/><circle cx="773.2" cy="401.7" r="13.8"/><circle cx="777.1" cy="333.1" r="13.8"/><circle cx="781" cy="304.6" r="13.8"/><circle cx="784.9" cy="285.7" r="13.8"/><circle cx="788.8" cy="245.2" r="13.8"/><circle cx="792.7" cy="257.2" r="13.8"/><circle cx="796.6" cy="224" r="13.8"/><circle cx="800.5" cy="200.3" r="13.8"/><circle cx="804.4" cy="217.4" r="13.8"/><circle cx="808.3" cy="235.7" r="13.8"/><circle cx="812.2" cy="251.1" r="13.8"/><circle cx="816.1" cy="252.1" r="13.8"/><circle cx="820" cy="249.2" r="13.8"/><circle cx="823.9" cy="268.2" r="13.8"/><circle cx="827.8" cy="262.2" r="13.8"/><circle cx="831.7" cy="275.2" r="13.8"/><circle cx="835.6" cy="288.2" r="13.8"/><circle cx="839.5" cy="295.8" r="13.8"/><circle cx="843.3" cy="313.4" r="13.8"/><circle cx="847.2" cy="336.6" r="13.8"/><circle cx="851.1" cy="317.6" r="13.8"/><circle cx="855" cy="323.8" r="13.8"/><circle cx="858.9" cy="335.7" r="13.8"/><circle cx="862.8" cy="362.2" r="13.8"/><circle cx="866.7" cy="357.1" r="13.8"/><circle cx="870.6" cy="359.7" r="13.8"/><circle cx="874.5" cy="392.2" r="13.8"/><circle cx="878.4" cy="372.5" r="13.8"/><circle cx="882.3" cy="404.4" r="13.8"/><circle cx="886.2" cy="380.8" r="13.8"/><circle cx="890.1" cy="411.9" r="13.8"/><circle cx="894" cy="392" r="13.8"/><circle cx="897.9" cy="423.4" r="13.8"/><circle cx="901.8" cy="416.6" r="13.8"/><circle cx="905.7" cy="411.8" r="13.8"/><circle cx="909.6" cy="412.5" r="13.8"/><circle cx="913.5" cy="425.5" r="13.8"/><circle cx="917.4" cy="426.4" r="13.8"/><circle cx="921.3" cy="447.8" r="13.8"/><circle cx="925.1" cy="438.3" r="13.8"/><circle cx="929" cy="457.3" r="13.8"/><circle cx="932.9" cy="442.9" r="13.8"/><circle cx="936.8" cy="452.1" r="13.8"/><circle cx="940.7" cy="471.3" r="13.8"/><circle cx="944.6" cy="461.9" r="13.8"/><circle cx="948.5" cy="489.2" r="13.8"/><circle cx="952.4" cy="469.2" r="13.8"/><circle cx="956.3" cy="480.2" r="13.8"/><circle cx="960.2" cy="497.4" r="13.8"/><circle cx="964.1" cy="492.1" r="13.8"/><circle cx="968" cy="494.2" r="13.8"/><circle cx="971.9" cy="503.5" r="13.8"/><circle cx="975.8" cy="503.6" r="13.8"/><circle cx="979.7" cy="521.5" r="13.8"/><circle cx="983.6" cy="529.4" r="13.8"/><circle cx="987.5" cy="533.7" r="13.8"/><circle cx="991.4" cy="541.6" r="13.8"/><circle cx="995.3" cy="542.9" r="13.8"/><circle cx="999.2" cy="542.2" r="13.8"/><circle cx="1003.1" cy="548" r="13.8"/><circle cx="1007" cy="563.9" r="13.8"/><circle cx="1010.8" cy="572" r="13.8"/><circle cx="1014.7" cy="578.3" r="13.8"/><circle cx="1018.6" cy="591.8" r="13.8"/><circle cx="1022.5" cy="612.5" r="13.8"/><circle cx="1026.4" cy="604.1" r="13.8"/><circle cx="1030.3" cy="624.1" r="13.8"/><circle cx="1034.2" cy="612.6" r="13.8"/><circle cx="1038.1" cy="610.8" r="13.8"/><circle cx="1042" cy="628" r="13.8"/><circle cx="1045.9" cy="622.7" r="13.8"/><circle cx="1049.8" cy="650.2" r="13.8"/><circle cx="1053.7" cy="634.2" r="13.8"/><circle cx="1057.6" cy="659.6" r="13.8"/><circle cx="1061.5" cy="648.6" r="13.8"/><circle cx="1065.4" cy="668" r="13.8"/><circle cx="1069.3" cy="670.2" r="13.8"/><circle cx="1073.2" cy="679" r="13.8"/><circle cx="1077.1" cy="684" r="13.8"/><circle cx="1081" cy="673.3" r="13.8"/><circle cx="1084.9" cy="677.4" r="13.8"/><circle cx="1088.8" cy="692" r="13.8"/><circle cx="1092.6" cy="685.8" r="13.8"/><circle cx="1096.5" cy="694.1" r="13.8"/><circle cx="1100.4" cy="686" r="13.8"/><circle cx="1104.3" cy="695.7" r="13.8"/><circle cx="1108.2" cy="688.5" r="13.8"/><circle cx="1112.1" cy="682.8" r="13.8"/><circle cx="1116" cy="683.9" r="13.8"/><circle cx="1119.9" cy="678.4" r="13.8"/><circle cx="1123.8" cy="672.7" r="13.8"/><circle cx="1127.7" cy="669.8" r="13.8"/><circle cx="1131.6" cy="664.3" r="13.8"/><circle cx="1135.5" cy="669.5" r="13.8"/><circle cx="1139.4" cy="656.1" r="13.8"/><circle cx="1143.3" cy="658.3" r="13.8"/><circle cx="1147.2" cy="648.6" r="13.8"/><circle cx="1151.1" cy="647.5" r="13.8"/><circle cx="1155" cy="643.3" r="13.8"/><circle cx="1158.9" cy="636.9" r="13.8"/><circle cx="1162.8" cy="646.6" r="13.8"/><circle cx="1166.7" cy="631.4" r="13.8"/><circle cx="1170.6" cy="638.5" r="13.8"/><circle cx="1174.4" cy="626.3" r="13.8"/><circle cx="1178.3" cy="633.9" r="13.8"/><circle cx="1182.2" cy="626.9" r="13.8"/><circle cx="1186.1" cy="629.4" r="13.8"/><circle cx="1190" cy="614.6" r="13.8"/><circle cx="1193.9" cy="621.6" r="13.8"/><circle cx="1197.8" cy="615.6" r="13.8"/><circle cx="1201.7" cy="606.6" r="13.8"/><circle cx="1205.6" cy="613" r="13.8"/><circle cx="1209.5" cy="600.8" r="13.8"/><circle cx="1213.4" cy="605.8" r="13.8"/><circle cx="1217.3" cy="596.5" r="13.8"/><circle cx="1221.2" cy="598" r="13.8"/><circle cx="1225.1" cy="593.8" r="13.8"/><circle cx="1229" cy="597.9" r="13.8"/><circle cx="1232.9" cy="606.8" r="13.8"/><circle cx="1236.8" cy="602" r="13.8"/><circle cx="1240.7" cy="595.4" r="13.8"/><circle cx="1244.6" cy="596.5" r="13.8"/><circle cx="1248.5" cy="610.3" r="13.8"/><circle cx="1252.4" cy="611.3" r="13.8"/><circle cx="1256.3" cy="612.7" r="13.8"/><circle cx="1260.1" cy="606.3" r="13.8"/><circle cx="1264" cy="616.5" r="13.8"/><circle cx="1267.9" cy="608.2" r="13.8"/><circle cx="1271.8" cy="617.9" r="13.8"/><circle cx="1275.7" cy="609.8" r="13.8"/><circle cx="1279.6" cy="622.6" r="13.8"/><circle cx="1283.5" cy="612.4" r="13.8"/><circle cx="1287.4" cy="625" r="13.8"/><circle cx="1291.3" cy="631.1" r="13.8"/><circle cx="1295.2" cy="631.3" r="13.8"/><circle cx="1299.1" cy="622.1" r="13.8"/><circle cx="1303" cy="636" r="13.8"/><circle cx="1306.9" cy="637.6" r="13.8"/><circle cx="1310.8" cy="628.3" r="13.8"/><circle cx="1314.7" cy="641.1" r="13.8"/><circle cx="1318.6" cy="639.8" r="13.8"/><circle cx="1322.5" cy="644.9" r="13.8"/><circle cx="1326.4" cy="650.3" r="13.8"/><circle cx="1330.3" cy="646.6" r="13.8"/><circle cx="1334.2" cy="663.4" r="13.8"/><circle cx="1338.1" cy="662.1" r="13.8"/><circle cx="1341.9" cy="664.2" r="13.8"/><circle cx="1345.8" cy="662.9" r="13.8"/><circle cx="1349.7" cy="665.3" r="13.8"/><circle cx="1353.6" cy="679.1" r="13.8"/><circle cx="1357.5" cy="680.7" r="13.8"/><circle cx="1361.4" cy="681.6" r="13.8"/><circle cx="1365.3" cy="682.9" r="13.8"/><circle cx="1369.2" cy="678.5" r="13.8"/><circle cx="1373.1" cy="681.5" r="13.8"/><circle cx="1377" cy="681.9" r="13.8"/><circle cx="1380.9" cy="692.3" r="13.8"/><circle cx="1384.8" cy="694.5" r="13.8"/><circle cx="1388.7" cy="700.5" r="13.8"/><circle cx="1392.6" cy="692.3" r="13.8"/><circle cx="1396.5" cy="694.6" r="13.8"/><circle cx="1400.4" cy="696.3" r="13.8"/><circle cx="1404.3" cy="701.1" r="13.8"/><circle cx="1408.2" cy="701.6" r="13.8"/><circle cx="1412.1" cy="707.5" r="13.8"/><circle cx="1416" cy="706.1" r="13.8"/><circle cx="1419.9" cy="715.4" r="13.8"/><circle cx="1423.7" cy="710.8" r="13.8"/><circle cx="1427.6" cy="712.5" r="13.8"/><circle cx="1431.5" cy="715.9" r="13.8"/><circle cx="1435.4" cy="714.9" r="13.8"/><circle cx="1439.3" cy="718.3" r="13.8"/><circle cx="1443.2" cy="726" r="13.8"/><circle cx="1447.1" cy="729.5" r="13.8"/><circle cx="1451" cy="728" r="13.8"/><circle cx="1454.9" cy="730.9" r="13.8"/><circle cx="1458.8" cy="723.5" r="13.8"/><circle cx="1462.7" cy="729.2" r="13.8"/><circle cx="1466.6" cy="728.3" r="13.8"/><circle cx="1470.5" cy="728" r="13.8"/><circle cx="1474.4" cy="730.9" r="13.8"/><circle cx="1478.3" cy="731.9" r="13.8"/><circle cx="1482.2" cy="737" r="13.8"/><circle cx="1486.1" cy="736.7" r="13.8"/><circle cx="1490" cy="736.8" r="13.8"/><circle cx="1493.9" cy="744.7" r="13.8"/><circle cx="1497.8" cy="742.7" r="13.8"/><circle cx="1501.7" cy="741.7" r="13.8"/><circle cx="1505.5" cy="750.9" r="13.8"/><circle cx="1509.4" cy="753.5" r="13.8"/><circle cx="1513.3" cy="750.2" r="13.8"/><circle cx="1517.2" cy="746.5" r="13.8"/><circle cx="1521.1" cy="751.2" r="13.8"/><circle cx="1525" cy="755.9" r="13.8"/><circle cx="1528.9" cy="748.3" r="13.8"/><circle cx="1532.8" cy="754.8" r="13.8"/><circle cx="1536.7" cy="756.2" r="13.8"/><circle cx="1540.6" cy="760.8" r="13.8"/><circle cx="1544.5" cy="758.3" r="13.8"/><circle cx="1548.4" cy="753.2" r="13.8"/><circle cx="1552.3" cy="760.3" r="13.8"/><circle cx="1556.2" cy="757.1" r="13.8"/><circle cx="1560.1" cy="756.8" r="13.8"/><circle cx="1564" cy="767.6" r="13.8"/><circle cx="1567.9" cy="761.1" r="13.8"/><circle cx="1571.8" cy="768.6" r="13.8"/><circle cx="1575.7" cy="765.5" r="13.8"/><circle cx="1579.6" cy="762.9" r="13.8"/><circle cx="1583.5" cy="769.8" r="13.8"/><circle cx="1587.4" cy="766.4" r="13.8"/><circle cx="1591.2" cy="772.8" r="13.8"/><circle cx="1595.1" cy="769.9" r="13.8"/><circle cx="1599" cy="769.6" r="13.8"/><circle cx="1602.9" cy="772.8" r="13.8"/><circle cx="1606.8" cy="776.8" r="13.8"/><circle cx="1610.7" cy="772.9" r="13.8"/><circle cx="1614.6" cy="780.8" r="13.8"/><circle cx="1618.5" cy="780.1" r="13.8"/><circle cx="1622.4" cy="775.8" r="13.8"/><circle cx="1626.3" cy="780.2" r="13.8"/><circle cx="1630.2" cy="785.6" r="13.8"/><circle cx="1634.1" cy="780.2" r="13.8"/><circle cx="1638" cy="779.1" r="13.8"/><circle cx="1641.9" cy="788.3" r="13.8"/><circle cx="1645.8" cy="781.3" r="13.8"/><circle cx="1649.7" cy="791.9" r="13.8"/><circle cx="1653.6" cy="783.1" r="13.8"/><circle cx="1657.5" cy="787.4" r="13.8"/><circle cx="1661.4" cy="792.9" r="13.8"/><circle cx="1665.3" cy="794.8" r="13.8"/><circle cx="1669.2" cy="793.1" r="13.8"/><circle cx="1673" cy="794.2" r="13.8"/><circle cx="1676.9" cy="794" r="13.8"/><circle cx="1680.8" cy="794.9" r="13.8"/><circle cx="1684.7" cy="800.6" r="13.8"/><circle cx="1688.6" cy="800.1" r="13.8"/><circle cx="1692.5" cy="802" r="13.8"/><circle cx="1696.4" cy="795.6" r="13.8"/><circle cx="1700.3" cy="803.9" r="13.8"/><circle cx="1704.2" cy="799" r="13.8"/><circle cx="1708.1" cy="806.4" r="13.8"/><circle cx="1712" cy="801.1" r="13.8"/><circle cx="1715.9" cy="805" r="13.8"/><circle cx="1719.8" cy="804.9" r="13.8"/><circle cx="1723.7" cy="803" r="13.8"/><circle cx="1727.6" cy="809.2" r="13.8"/><circle cx="1731.5" cy="805.4" r="13.8"/><circle cx="1735.4" cy="804.4" r="13.8"/><circle cx="1739.3" cy="806.9" r="13.8"/><circle cx="1743.2" cy="809.2" r="13.8"/><circle cx="1747.1" cy="809.2" r="13.8"/><circle cx="1751" cy="808.3" r="13.8"/><circle cx="1754.8" cy="818.2" r="13.8"/><circle cx="1758.7" cy="809.3" r="13.8"/><circle cx="1762.6" cy="815.8" r="13.8"/><circle cx="1766.5" cy="812" r="13.8"/><circle cx="1770.4" cy="821.6" r="13.8"/><circle cx="1774.3" cy="820.5" r="13.8"/><circle cx="1778.2" cy="818" r="13.8"/><circle cx="1782.1" cy="818.7" r="13.8"/><circle cx="1786" cy="816.1" r="13.8"/><circle cx="1789.9" cy="823.8" r="13.8"/><circle cx="1793.8" cy="825.4" r="13.8"/><circle cx="1797.7" cy="821.6" r="13.8"/><circle cx="1801.6" cy="827.9" r="13.8"/><circle cx="1805.5" cy="820.8" r="13.8"/><circle cx="1809.4" cy="829" r="13.8"/><circle cx="1813.3" cy="831.9" r="13.8"/><circle cx="1817.2" cy="826.1" r="13.8"/><circle cx="1821.1" cy="831.7" r="13.8"/><circle cx="1825" cy="825.3" r="13.8"/><circle cx="1828.9" cy="834.6" r="13.8"/><circle cx="1832.8" cy="831.3" r="13.8"/><circle cx="1836.6" cy="830.8" r="13.8"/><circle cx="1840.5" cy="833.2" r="13.8"/><circle cx="1844.4" cy="838.4" r="13.8"/><circle cx="1848.3" cy="834.5" r="13.8"/><circle cx="1852.2" cy="839.6" r="13.8"/><circle cx="1856.1" cy="841.2" r="13.8"/><circle cx="1860" cy="833.3" r="13.8"/><circle cx="1863.9" cy="841.1" r="13.8"/><circle cx="1867.8" cy="843.6" r="13.8"/><circle cx="1871.7" cy="844.9" r="13.8"/><circle cx="1875.6" cy="837.1" r="13.8"/><circle cx="1879.5" cy="838.1" r="13.8"/><circle cx="1883.4" cy="839.9" r="13.8"/><circle cx="1887.3" cy="840.4" r="13.8"/><circle cx="1891.2" cy="847.1" r="13.8"/><circle cx="1895.1" cy="844.2" r="13.8"/><circle cx="1899" cy="843.5" r="13.8"/><circle cx="1902.9" cy="849.9" r="13.8"/><circle cx="1906.8" cy="845.3" r="13.8"/><circle cx="1910.7" cy="845.6" r="13.8"/><circle cx="1914.6" cy="849.4" r="13.8"/><circle cx="1918.5" cy="848.8" r="13.8"/><circle cx="1922.3" cy="856.2" r="13.8"/><circle cx="1926.2" cy="854" r="13.8"/><circle cx="1930.1" cy="855.4" r="13.8"/><circle cx="1934" cy="855.9" r="13.8"/><circle cx="1937.9" cy="850.7" r="13.8"/><circle cx="1941.8" cy="851.5" r="13.8"/><circle cx="1945.7" cy="861.2" r="13.8"/><circle cx="1949.6" cy="856.5" r="13.8"/><circle cx="1953.5" cy="861.8" r="13.8"/><circle cx="1957.4" cy="857.5" r="13.8"/><circle cx="1961.3" cy="855.5" r="13.8"/><circle cx="1965.2" cy="864.8" r="13.8"/><circle cx="1969.1" cy="863.4" r="13.8"/><circle cx="1973" cy="864.7" r="13.8"/><circle cx="1976.9" cy="861.2" r="13.8"/><circle cx="1980.8" cy="861.1" r="13.8"/><circle cx="1984.7" cy="869.8" r="13.8"/><circle cx="1988.6" cy="869.3" r="13.8"/><circle cx="1992.5" cy="868.6" r="13.8"/><circle cx="1996.4" cy="863.3" r="13.8"/><circle cx="2000.3" cy="865.7" r="13.8"/><circle cx="2004.1" cy="867.8" r="13.8"/><circle cx="2008" cy="865.7" r="13.8"/><circle cx="2011.9" cy="872.5" r="13.8"/><circle cx="2015.8" cy="868.7" r="13.8"/><circle cx="2019.7" cy="875.5" r="13.8"/><circle cx="2023.6" cy="876.2" r="13.8"/><circle cx="2027.5" cy="870.1" r="13.8"/><circle cx="2031.4" cy="871.7" r="13.8"/><circle cx="2035.3" cy="874.2" r="13.8"/><circle cx="2039.2" cy="880.1" r="13.8"/><circle cx="2043.1" cy="879.5" r="13.8"/><circle cx="2047" cy="873.9" r="13.8"/><circle cx="2050.9" cy="879.6" r="13.8"/><circle cx="2054.8" cy="884.1" r="13.8"/><circle cx="2058.7" cy="883.3" r="13.8"/><circle cx="2062.6" cy="879.9" r="13.8"/><circle cx="2066.5" cy="878.2" r="13.8"/><circle cx="2070.4" cy="883.3" r="13.8"/><circle cx="2074.3" cy="886.2" r="13.8"/><circle cx="2078.2" cy="881" r="13.8"/><circle cx="2082.1" cy="887.1" r="13.8"/><circle cx="2085.9" cy="888.3" r="13.8"/><circle cx="2089.8" cy="885.4" r="13.8"/><circle cx="2093.7" cy="886.9" r="13.8"/><circle cx="2097.6" cy="884.3" r="13.8"/><circle cx="2101.5" cy="889.5" r="13.8"/><circle cx="2105.4" cy="887.8" r="13.8"/><circle cx="2109.3" cy="891" r="13.8"/><circle cx="2113.2" cy="889.1" r="13.8"/><circle cx="2117.1" cy="887.9" r="13.8"/><circle cx="2121" cy="896.7" r="13.8"/><circle cx="2124.9" cy="889.5" r="13.8"/><circle cx="2128.8" cy="890.2" r="13.8"/><circle cx="2132.7" cy="896.6" r="13.8"/><circle cx="2136.6" cy="900.4" r="13.8"/><circle cx="2140.5" cy="897.1" r="13.8"/><circle cx="2144.4" cy="895.1" r="13.8"/><circle cx="2148.3" cy="901" r="13.8"/><circle cx="2152.2" cy="901.9" r="13.8"/><circle cx="2156.1" cy="901" r="13.8"/><circle cx="2160" cy="896.1" r="13.8"/><circle cx="2163.9" cy="899.4" r="13.8"/><circle cx="2167.8" cy="899.1" r="13.8"/><circle cx="2171.6" cy="900.9" r="13.8"/><circle cx="2175.5" cy="900.7" r="13.8"/><circle cx="2179.4" cy="904.2" r="13.8"/><circle cx="2183.3" cy="904" r="13.8"/><circle cx="2187.2" cy="908.5" r="13.8"/><circle cx="2191.1" cy="900.5" r="13.8"/><circle cx="2195" cy="909.1" r="13.8"/><circle cx="2198.9" cy="903.1" r="13.8"/><circle cx="2202.8" cy="905.2" r="13.8"/><circle cx="2206.7" cy="904.7" r="13.8"/><circle cx="2210.6" cy="907.4" r="13.8"/><circle cx="2214.5" cy="907.7" r="13.8"/><circle cx="2218.4" cy="910.7" r="13.8"/><circle cx="2222.3" cy="913.4" r="13.8"/><circle cx="2226.2" cy="908.2" r="13.8"/><circle cx="2230.1" cy="908.7" r="13.8"/><circle cx="2234" cy="912.5" r="13.8"/><circle cx="2237.9" cy="906.9" r="13.8"/><circle cx="2241.8" cy="907.2" r="13.8"/><circle cx="2245.7" cy="913.2" r="13.8"/><circle cx="2249.6" cy="912.5" r="13.8"/><circle cx="2253.4" cy="915.2" r="13.8"/><circle cx="2257.3" cy="910.1" r="13.8"/><circle cx="2261.2" cy="915.9" r="13.8"/><circle cx="2265.1" cy="915.1" r="13.8"/><circle cx="2269" cy="909" r="13.8"/><circle cx="2272.9" cy="917" r="13.8"/><circle cx="2276.8" cy="909.9" r="13.8"/><circle cx="2280.7" cy="913.1" r="13.8"/><circle cx="2284.6" cy="917.3" r="13.8"/><circle cx="2288.5" cy="911.2" r="13.8"/><circle cx="2292.4" cy="913.4" r="13.8"/></g>
</g>
<rect x="1963.0" y="132.0" width="33.3" height="33.3" fill="#000"/>
<path fill="none" stroke="#f00" stroke-width="6.6" stroke-linejoin="round" d="M1961.6 220.8h36.2L1979.7 254.3z"/>
<path fill="#00f" d="M1958.3 328h42.8L1981.2 293.8h-3z"/>
<circle cx="1980.3" cy="400.1" r="13.85" fill="none" stroke="#008000" stroke-width="7.3"/>
<text transform="translate(298.50,1546.60) scale(1.0000,1.0450)" text-anchor="end">0.0</text>
<text transform="translate(298.50,1257.18) scale(1.0000,1.0450)" text-anchor="end">0.5</text>
<text transform="translate(298.50,967.76) scale(1.0000,1.0450)" text-anchor="end">1.0</text>
<text transform="translate(298.50,678.34) scale(1.0000,1.0450)" text-anchor="end">1.5</text>
<text transform="translate(298.50,388.92) scale(1.0000,1.0450)" text-anchor="end">2.0</text>
<text transform="translate(298.50,99.50) scale(1.0000,1.0450)" text-anchor="end">2.5</text>
<text transform="translate(344.75,1626.30) scale(1.0000,1.0450)" text-anchor="middle">0</text>
<text transform="translate(831.66,1626.30) scale(1.0000,1.0450)" text-anchor="middle">5</text>
<text transform="translate(1318.58,1626.30) scale(1.0000,1.0450)" text-anchor="middle">10</text>
<text transform="translate(1805.49,1626.30) scale(1.0000,1.0450)" text-anchor="middle">15</text>
<text transform="translate(2292.40,1626.30) scale(1.0000,1.0450)" text-anchor="middle">20</text>
<text transform="translate(2074.00,170.10) scale(1.0000,1.0450)">PCE1</text>
<text transform="translate(2074.00,254.80) scale(1.0000,1.0450)">PCE2</text>
<text transform="translate(2074.00,337.30) scale(1.0000,1.0450)">PCE3</text>
<text transform="translate(2074.00,422.60) scale(1.0000,1.0450)">PCE4</text>
<text transform="translate(1123.00,1749.60) scale(1.0175,1.0000)">Distance</text>
<text transform="translate(1412.20,1749.60) scale(0.9200,1.0000)">(</text>
<text transform="translate(1433.50,1753.50) scale(0.6600,1.0000)" style="font-size:80px;font-family:'Liberation Serif',serif;font-weight:normal">Å</text>
<text transform="translate(1492.60,1749.60) scale(0.9200,1.0000)">)</text>
<text transform="translate(97.40,939.50) rotate(-90)" style="font-size:70px;">g</text>
<text transform="translate(122.80,897.50) rotate(-90) scale(1.0800,1.0000)" style="font-size:38px;">Op-Op</text>
<text transform="translate(98.30,769.80) rotate(-90) scale(1.0240,1.0000)" style="font-size:67.7px;">(r)</text>
</svg>
</body>
</html>
